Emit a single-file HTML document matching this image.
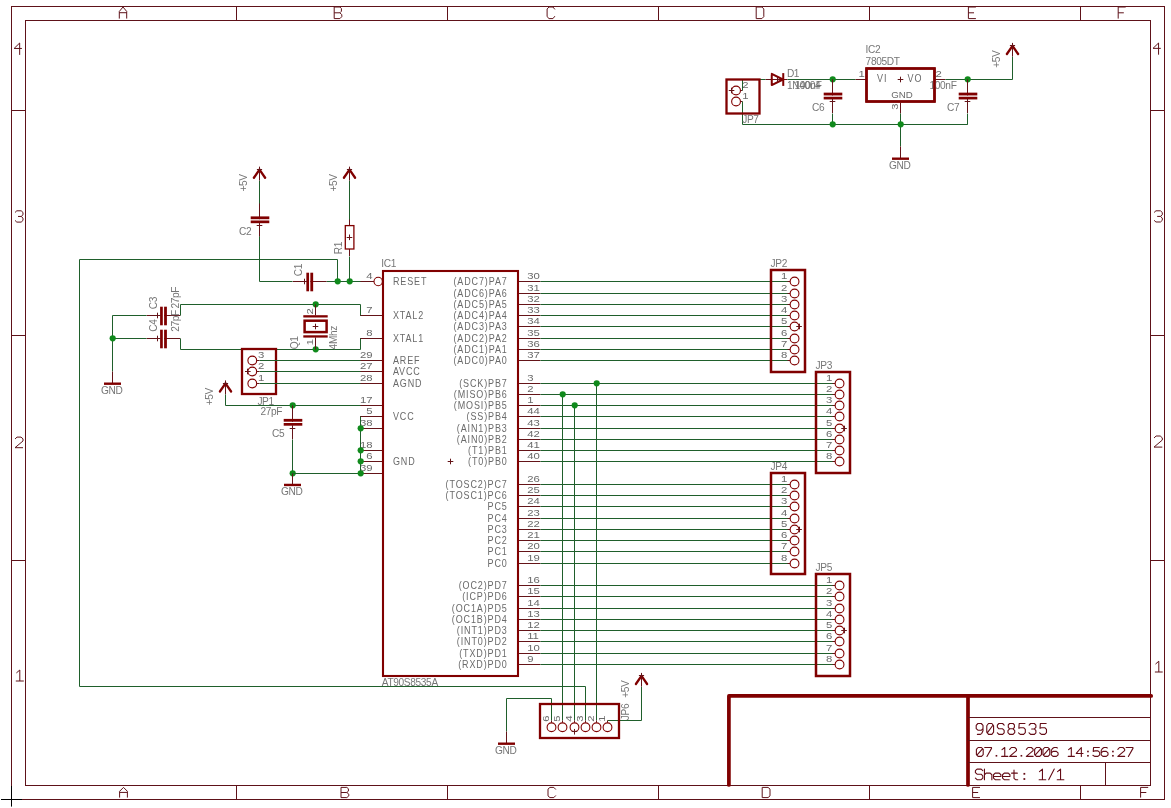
<!DOCTYPE html>
<html><head><meta charset="utf-8"><title>90S8535</title>
<style>html,body{margin:0;padding:0;background:#fff;overflow:hidden}svg{display:block;will-change:transform}</style>
</head><body>
<svg width="1171" height="808" viewBox="0 0 1171 808" shape-rendering="auto">
<rect x="0" y="0" width="1171" height="808" fill="#ffffff"/>
<rect x="11.50" y="6.50" width="1153.00" height="793.00" fill="none" stroke="#5e1219" stroke-width="1"/>
<rect x="25.50" y="20.50" width="1125.00" height="765.00" fill="none" stroke="#5e1219" stroke-width="1"/>
<line x1="236.50" y1="6.50" x2="236.50" y2="20.50" stroke="#5e1219" stroke-width="1" stroke-linecap="butt"/>
<line x1="236.50" y1="785.50" x2="236.50" y2="799.50" stroke="#5e1219" stroke-width="1" stroke-linecap="butt"/>
<line x1="447.50" y1="6.50" x2="447.50" y2="20.50" stroke="#5e1219" stroke-width="1" stroke-linecap="butt"/>
<line x1="447.50" y1="785.50" x2="447.50" y2="799.50" stroke="#5e1219" stroke-width="1" stroke-linecap="butt"/>
<line x1="658.50" y1="6.50" x2="658.50" y2="20.50" stroke="#5e1219" stroke-width="1" stroke-linecap="butt"/>
<line x1="658.50" y1="785.50" x2="658.50" y2="799.50" stroke="#5e1219" stroke-width="1" stroke-linecap="butt"/>
<line x1="869.50" y1="6.50" x2="869.50" y2="20.50" stroke="#5e1219" stroke-width="1" stroke-linecap="butt"/>
<line x1="869.50" y1="785.50" x2="869.50" y2="799.50" stroke="#5e1219" stroke-width="1" stroke-linecap="butt"/>
<line x1="1080.50" y1="6.50" x2="1080.50" y2="20.50" stroke="#5e1219" stroke-width="1" stroke-linecap="butt"/>
<line x1="1080.50" y1="785.50" x2="1080.50" y2="799.50" stroke="#5e1219" stroke-width="1" stroke-linecap="butt"/>
<line x1="11.50" y1="110.50" x2="25.50" y2="110.50" stroke="#5e1219" stroke-width="1" stroke-linecap="butt"/>
<line x1="1150.50" y1="110.50" x2="1164.50" y2="110.50" stroke="#5e1219" stroke-width="1" stroke-linecap="butt"/>
<line x1="11.50" y1="335.50" x2="25.50" y2="335.50" stroke="#5e1219" stroke-width="1" stroke-linecap="butt"/>
<line x1="1150.50" y1="335.50" x2="1164.50" y2="335.50" stroke="#5e1219" stroke-width="1" stroke-linecap="butt"/>
<line x1="11.50" y1="560.50" x2="25.50" y2="560.50" stroke="#5e1219" stroke-width="1" stroke-linecap="butt"/>
<line x1="1150.50" y1="560.50" x2="1164.50" y2="560.50" stroke="#5e1219" stroke-width="1" stroke-linecap="butt"/>
<path transform="translate(119.30,7.00) scale(0.9250,0.9667)" d="M0,12 V4.6 L4,0 L8,4.6 V12 M0,5.9 H8" fill="none" stroke="#5e1219" stroke-width="1" vector-effect="non-scaling-stroke" stroke-linejoin="round"/>
<path transform="translate(334.20,7.00) scale(0.9500,0.9667)" d="M0,0 V12 H6 L8,10 V8 L6,6 H0 M6,6 L7.6,4.4 V1.6 L6,0 H0" fill="none" stroke="#5e1219" stroke-width="1" vector-effect="non-scaling-stroke" stroke-linejoin="round"/>
<path transform="translate(547.10,7.00) scale(0.9750,0.9667)" d="M8,2.5 L6,0 H2 L0,2 V10 L2,12 H6 L8,9.5" fill="none" stroke="#5e1219" stroke-width="1" vector-effect="non-scaling-stroke" stroke-linejoin="round"/>
<path transform="translate(756.20,7.00) scale(0.9500,0.9667)" d="M0,0 V12 H6 L8,10 V2 L6,0 Z" fill="none" stroke="#5e1219" stroke-width="1" vector-effect="non-scaling-stroke" stroke-linejoin="round"/>
<path transform="translate(968.40,7.00) scale(0.9375,0.9667)" d="M8,0 H0 V12 H8 M0,6 H6" fill="none" stroke="#5e1219" stroke-width="1" vector-effect="non-scaling-stroke" stroke-linejoin="round"/>
<path transform="translate(1118.20,7.00) scale(0.9375,0.9667)" d="M8,0 H0 V12 M0,6 H6" fill="none" stroke="#5e1219" stroke-width="1" vector-effect="non-scaling-stroke" stroke-linejoin="round"/>
<path transform="translate(119.60,787.40) scale(0.9750,0.8500)" d="M0,12 V4.6 L4,0 L8,4.6 V12 M0,5.9 H8" fill="none" stroke="#5e1219" stroke-width="1" vector-effect="non-scaling-stroke" stroke-linejoin="round"/>
<path transform="translate(341.00,787.40) scale(0.9750,0.8500)" d="M0,0 V12 H6 L8,10 V8 L6,6 H0 M6,6 L7.6,4.4 V1.6 L6,0 H0" fill="none" stroke="#5e1219" stroke-width="1" vector-effect="non-scaling-stroke" stroke-linejoin="round"/>
<path transform="translate(548.00,787.40) scale(0.9750,0.8500)" d="M8,2.5 L6,0 H2 L0,2 V10 L2,12 H6 L8,9.5" fill="none" stroke="#5e1219" stroke-width="1" vector-effect="non-scaling-stroke" stroke-linejoin="round"/>
<path transform="translate(762.20,787.40) scale(0.9750,0.8500)" d="M0,0 V12 H6 L8,10 V2 L6,0 Z" fill="none" stroke="#5e1219" stroke-width="1" vector-effect="non-scaling-stroke" stroke-linejoin="round"/>
<path transform="translate(972.60,787.40) scale(0.9250,0.8500)" d="M8,0 H0 V12 H8 M0,6 H6" fill="none" stroke="#5e1219" stroke-width="1" vector-effect="non-scaling-stroke" stroke-linejoin="round"/>
<path transform="translate(1140.60,787.40) scale(0.9500,0.8500)" d="M8,0 H0 V12 M0,6 H6" fill="none" stroke="#5e1219" stroke-width="1" vector-effect="non-scaling-stroke" stroke-linejoin="round"/>
<path transform="translate(14.10,43.00) scale(0.9750,0.9917)" d="M5.7,12 V0 L0,5.5 H8" fill="none" stroke="#5e1219" stroke-width="1" vector-effect="non-scaling-stroke" stroke-linejoin="round"/>
<path transform="translate(15.00,210.80) scale(1.0000,0.9417)" d="M0,1.8 L1.8,0 H6.2 L8,1.8 V4.2 L6.2,6 H3 M6.2,6 L8,7.8 V10.2 L6.2,12 H1.8 L0,10.2" fill="none" stroke="#5e1219" stroke-width="1" vector-effect="non-scaling-stroke" stroke-linejoin="round"/>
<path transform="translate(15.00,437.10) scale(1.0000,0.8833)" d="M0,2.2 L2,0 H6 L8,2 V4.4 L0,12 H8" fill="none" stroke="#5e1219" stroke-width="1" vector-effect="non-scaling-stroke" stroke-linejoin="round"/>
<path transform="translate(15.80,670.00) scale(1.0000,0.9167)" d="M0.6,3.2 L4,0 V12 M0,12 H8" fill="none" stroke="#5e1219" stroke-width="1" vector-effect="non-scaling-stroke" stroke-linejoin="round"/>
<path transform="translate(1153.00,43.00) scale(0.9750,0.9750)" d="M5.7,12 V0 L0,5.5 H8" fill="none" stroke="#5e1219" stroke-width="1" vector-effect="non-scaling-stroke" stroke-linejoin="round"/>
<path transform="translate(1154.10,210.80) scale(1.0250,0.9333)" d="M0,1.8 L1.8,0 H6.2 L8,1.8 V4.2 L6.2,6 H3 M6.2,6 L8,7.8 V10.2 L6.2,12 H1.8 L0,10.2" fill="none" stroke="#5e1219" stroke-width="1" vector-effect="non-scaling-stroke" stroke-linejoin="round"/>
<path transform="translate(1154.00,436.00) scale(1.0375,0.9250)" d="M0,2.2 L2,0 H6 L8,2 V4.4 L0,12 H8" fill="none" stroke="#5e1219" stroke-width="1" vector-effect="non-scaling-stroke" stroke-linejoin="round"/>
<path transform="translate(1154.90,661.20) scale(0.9750,0.9000)" d="M0.6,3.2 L4,0 V12 M0,12 H8" fill="none" stroke="#5e1219" stroke-width="1" vector-effect="non-scaling-stroke" stroke-linejoin="round"/>
<line x1="1.00" y1="799.50" x2="22.00" y2="799.50" stroke="#000000" stroke-width="1" stroke-linecap="butt"/>
<line x1="11.50" y1="786.00" x2="11.50" y2="806.60" stroke="#000000" stroke-width="1" stroke-linecap="butt"/>
<path d="M728.9,785 V695.9 H1151.2" fill="none" stroke="#800000" stroke-width="3.7" stroke-linecap="round" stroke-linejoin="round"/>
<line x1="968.00" y1="695.90" x2="968.00" y2="785.00" stroke="#800000" stroke-width="3.7" stroke-linecap="round"/>
<line x1="968.00" y1="717.50" x2="1150.50" y2="717.50" stroke="#5e1219" stroke-width="1" stroke-linecap="butt"/>
<line x1="968.00" y1="740.50" x2="1150.50" y2="740.50" stroke="#5e1219" stroke-width="1" stroke-linecap="butt"/>
<line x1="968.00" y1="762.50" x2="1150.50" y2="762.50" stroke="#5e1219" stroke-width="1" stroke-linecap="butt"/>
<line x1="1105.50" y1="762.50" x2="1105.50" y2="785.50" stroke="#5e1219" stroke-width="1" stroke-linecap="butt"/>
<path transform="translate(976.20,723.50) scale(0.8500,0.9083)" d="M8,5.6 L6.2,7.4 H2 L0,5.6 V2 L2,0 H6 L8,2 V8 L6.6,10.8 L5,12 H1.4" fill="none" stroke="#640c16" stroke-width="1.1" vector-effect="non-scaling-stroke" stroke-linejoin="round" stroke-linecap="round"/>
<path transform="translate(986.78,723.50) scale(0.8500,0.9083)" d="M2,0 H6 L8,2.5 V9.5 L6,12 H2 L0,9.5 V2.5 Z M0.6,10.4 L7.4,1.6" fill="none" stroke="#640c16" stroke-width="1.1" vector-effect="non-scaling-stroke" stroke-linejoin="round" stroke-linecap="round"/>
<path transform="translate(997.36,723.50) scale(0.8500,0.9083)" d="M8,1.8 L6.2,0 H1.8 L0,1.8 V4 L1.8,5.8 H6.2 L8,7.6 V10.2 L6.2,12 H1.8 L0,10.2" fill="none" stroke="#640c16" stroke-width="1.1" vector-effect="non-scaling-stroke" stroke-linejoin="round" stroke-linecap="round"/>
<path transform="translate(1007.94,723.50) scale(0.8500,0.9083)" d="M2,0 H6 L7.6,1.6 V4.2 L6,5.8 H2 L0.4,4.2 V1.6 Z M2,5.8 L0,7.8 V10 L2,12 H6 L8,10 V7.8 L6,5.8" fill="none" stroke="#640c16" stroke-width="1.1" vector-effect="non-scaling-stroke" stroke-linejoin="round" stroke-linecap="round"/>
<path transform="translate(1018.52,723.50) scale(0.8500,0.9083)" d="M7.6,0 H0.8 L0.4,5.2 L2,4.6 H6 L8,6.6 V10 L6,12 H2 L0,10.4" fill="none" stroke="#640c16" stroke-width="1.1" vector-effect="non-scaling-stroke" stroke-linejoin="round" stroke-linecap="round"/>
<path transform="translate(1029.10,723.50) scale(0.8500,0.9083)" d="M0,1.8 L1.8,0 H6.2 L8,1.8 V4.2 L6.2,6 H3 M6.2,6 L8,7.8 V10.2 L6.2,12 H1.8 L0,10.2" fill="none" stroke="#640c16" stroke-width="1.1" vector-effect="non-scaling-stroke" stroke-linejoin="round" stroke-linecap="round"/>
<path transform="translate(1039.68,723.50) scale(0.8500,0.9083)" d="M7.6,0 H0.8 L0.4,5.2 L2,4.6 H6 L8,6.6 V10 L6,12 H2 L0,10.4" fill="none" stroke="#640c16" stroke-width="1.1" vector-effect="non-scaling-stroke" stroke-linejoin="round" stroke-linecap="round"/>
<path transform="translate(976.40,747.50) scale(0.8500,0.7417)" d="M2,0 H6 L8,2.5 V9.5 L6,12 H2 L0,9.5 V2.5 Z M0.6,10.4 L7.4,1.6" fill="none" stroke="#640c16" stroke-width="1.1" vector-effect="non-scaling-stroke" stroke-linejoin="round" stroke-linecap="round"/>
<path transform="translate(984.72,747.50) scale(0.8500,0.7417)" d="M0,0 H8 V1.2 L2.6,12" fill="none" stroke="#640c16" stroke-width="1.1" vector-effect="non-scaling-stroke" stroke-linejoin="round" stroke-linecap="round"/>
<rect x="995.62" y="754.97" width="1.63" height="1.63" fill="#640c16"/>
<path transform="translate(1001.36,747.50) scale(0.8500,0.7417)" d="M0.8,2.8 L4,0 V12 M0.4,12 H7.6" fill="none" stroke="#640c16" stroke-width="1.1" vector-effect="non-scaling-stroke" stroke-linejoin="round" stroke-linecap="round"/>
<path transform="translate(1009.68,747.50) scale(0.8500,0.7417)" d="M0,2.5 L2,0 H6 L8,2.2 V4.2 L0,12 H8" fill="none" stroke="#640c16" stroke-width="1.1" vector-effect="non-scaling-stroke" stroke-linejoin="round" stroke-linecap="round"/>
<rect x="1020.58" y="754.97" width="1.63" height="1.63" fill="#640c16"/>
<path transform="translate(1026.32,747.50) scale(0.8500,0.7417)" d="M0,2.5 L2,0 H6 L8,2.2 V4.2 L0,12 H8" fill="none" stroke="#640c16" stroke-width="1.1" vector-effect="non-scaling-stroke" stroke-linejoin="round" stroke-linecap="round"/>
<path transform="translate(1034.64,747.50) scale(0.8500,0.7417)" d="M2,0 H6 L8,2.5 V9.5 L6,12 H2 L0,9.5 V2.5 Z M0.6,10.4 L7.4,1.6" fill="none" stroke="#640c16" stroke-width="1.1" vector-effect="non-scaling-stroke" stroke-linejoin="round" stroke-linecap="round"/>
<path transform="translate(1042.96,747.50) scale(0.8500,0.7417)" d="M2,0 H6 L8,2.5 V9.5 L6,12 H2 L0,9.5 V2.5 Z M0.6,10.4 L7.4,1.6" fill="none" stroke="#640c16" stroke-width="1.1" vector-effect="non-scaling-stroke" stroke-linejoin="round" stroke-linecap="round"/>
<path transform="translate(1051.28,747.50) scale(0.8500,0.7417)" d="M7.2,0.6 L6.2,0 H3.4 L1.4,1.4 L0,4 V10 L2,12 H6 L8,10 V7.2 L6,5.2 H2 L0,7.2" fill="none" stroke="#640c16" stroke-width="1.1" vector-effect="non-scaling-stroke" stroke-linejoin="round" stroke-linecap="round"/>
<path transform="translate(1067.92,747.50) scale(0.8500,0.7417)" d="M0.8,2.8 L4,0 V12 M0.4,12 H7.6" fill="none" stroke="#640c16" stroke-width="1.1" vector-effect="non-scaling-stroke" stroke-linejoin="round" stroke-linecap="round"/>
<path transform="translate(1076.24,747.50) scale(0.8500,0.7417)" d="M6,12 V0 L0,8 H8" fill="none" stroke="#640c16" stroke-width="1.1" vector-effect="non-scaling-stroke" stroke-linejoin="round" stroke-linecap="round"/>
<rect x="1087.14" y="754.97" width="1.63" height="1.63" fill="#640c16"/>
<rect x="1087.14" y="750.70" width="1.63" height="1.63" fill="#640c16"/>
<path transform="translate(1092.88,747.50) scale(0.8500,0.7417)" d="M7.6,0 H0.8 L0.4,5.2 L2,4.6 H6 L8,6.6 V10 L6,12 H2 L0,10.4" fill="none" stroke="#640c16" stroke-width="1.1" vector-effect="non-scaling-stroke" stroke-linejoin="round" stroke-linecap="round"/>
<path transform="translate(1101.20,747.50) scale(0.8500,0.7417)" d="M7.2,0.6 L6.2,0 H3.4 L1.4,1.4 L0,4 V10 L2,12 H6 L8,10 V7.2 L6,5.2 H2 L0,7.2" fill="none" stroke="#640c16" stroke-width="1.1" vector-effect="non-scaling-stroke" stroke-linejoin="round" stroke-linecap="round"/>
<rect x="1112.10" y="754.97" width="1.63" height="1.63" fill="#640c16"/>
<rect x="1112.10" y="750.70" width="1.63" height="1.63" fill="#640c16"/>
<path transform="translate(1117.84,747.50) scale(0.8500,0.7417)" d="M0,2.5 L2,0 H6 L8,2.2 V4.2 L0,12 H8" fill="none" stroke="#640c16" stroke-width="1.1" vector-effect="non-scaling-stroke" stroke-linejoin="round" stroke-linecap="round"/>
<path transform="translate(1126.16,747.50) scale(0.8500,0.7417)" d="M0,0 H8 V1.2 L2.6,12" fill="none" stroke="#640c16" stroke-width="1.1" vector-effect="non-scaling-stroke" stroke-linejoin="round" stroke-linecap="round"/>
<path transform="translate(975.40,769.10) scale(0.9250,0.8833)" d="M8,1.8 L6.2,0 H1.8 L0,1.8 V4 L1.8,5.8 H6.2 L8,7.6 V10.2 L6.2,12 H1.8 L0,10.2" fill="none" stroke="#640c16" stroke-width="1.1" vector-effect="non-scaling-stroke" stroke-linejoin="round" stroke-linecap="round"/>
<path transform="translate(984.45,769.10) scale(0.9250,0.8833)" d="M0,0 V12 M0,6.4 L1.8,4.6 H6.2 L8,6.4 V12" fill="none" stroke="#640c16" stroke-width="1.1" vector-effect="non-scaling-stroke" stroke-linejoin="round" stroke-linecap="round"/>
<path transform="translate(993.50,769.10) scale(0.9250,0.8833)" d="M0,8.4 H8 V6.4 L6.2,4.6 H1.8 L0,6.4 V10.2 L1.8,12 H7.2" fill="none" stroke="#640c16" stroke-width="1.1" vector-effect="non-scaling-stroke" stroke-linejoin="round" stroke-linecap="round"/>
<path transform="translate(1002.55,769.10) scale(0.9250,0.8833)" d="M0,8.4 H8 V6.4 L6.2,4.6 H1.8 L0,6.4 V10.2 L1.8,12 H7.2" fill="none" stroke="#640c16" stroke-width="1.1" vector-effect="non-scaling-stroke" stroke-linejoin="round" stroke-linecap="round"/>
<path transform="translate(1011.60,769.10) scale(0.9250,0.8833)" d="M2.6,1 V10.4 L4.2,12 H6.6 M0,4.6 H6.2" fill="none" stroke="#640c16" stroke-width="1.1" vector-effect="non-scaling-stroke" stroke-linejoin="round" stroke-linecap="round"/>
<rect x="1023.46" y="778.12" width="1.78" height="1.78" fill="#640c16"/>
<rect x="1023.46" y="772.92" width="1.78" height="1.78" fill="#640c16"/>
<path transform="translate(1038.75,769.10) scale(0.9250,0.8833)" d="M0.8,2.8 L4,0 V12 M0.4,12 H7.6" fill="none" stroke="#640c16" stroke-width="1.1" vector-effect="non-scaling-stroke" stroke-linejoin="round" stroke-linecap="round"/>
<path transform="translate(1047.80,769.10) scale(0.9250,0.8833)" d="M1,12 L7,0" fill="none" stroke="#640c16" stroke-width="1.1" vector-effect="non-scaling-stroke" stroke-linejoin="round" stroke-linecap="round"/>
<path transform="translate(1056.85,769.10) scale(0.9250,0.8833)" d="M0.8,2.8 L4,0 V12 M0.4,12 H7.6" fill="none" stroke="#640c16" stroke-width="1.1" vector-effect="non-scaling-stroke" stroke-linejoin="round" stroke-linecap="round"/>
<rect x="383.00" y="271.00" width="135.00" height="405.00" fill="none" stroke="#800000" stroke-width="2.1"/>
<line x1="360.00" y1="281.50" x2="374.00" y2="281.50" stroke="#641418" stroke-width="1" stroke-linecap="butt"/>
<circle cx="378.20" cy="281.50" r="4.20" fill="none" stroke="#800000" stroke-width="1.1"/>
<text transform="translate(372.30,279.20) scale(1.17,1)" font-family="Liberation Sans" font-size="9.7" fill="#6a6a6a" text-anchor="end" letter-spacing="-0.15">4</text>
<text transform="translate(392.90,284.90) scale(0.9,1)" font-family="Liberation Sans" font-size="10.0" fill="#6a6a6a" text-anchor="start" letter-spacing="0.98">RESET</text>
<line x1="360.00" y1="315.50" x2="382.00" y2="315.50" stroke="#641418" stroke-width="1" stroke-linecap="butt"/>
<text transform="translate(372.30,313.20) scale(1.17,1)" font-family="Liberation Sans" font-size="9.7" fill="#6a6a6a" text-anchor="end" letter-spacing="-0.15">7</text>
<text transform="translate(392.90,318.90) scale(0.9,1)" font-family="Liberation Sans" font-size="10.0" fill="#6a6a6a" text-anchor="start" letter-spacing="0.98">XTAL2</text>
<line x1="360.00" y1="338.50" x2="382.00" y2="338.50" stroke="#641418" stroke-width="1" stroke-linecap="butt"/>
<text transform="translate(372.30,336.20) scale(1.17,1)" font-family="Liberation Sans" font-size="9.7" fill="#6a6a6a" text-anchor="end" letter-spacing="-0.15">8</text>
<text transform="translate(392.90,341.90) scale(0.9,1)" font-family="Liberation Sans" font-size="10.0" fill="#6a6a6a" text-anchor="start" letter-spacing="0.98">XTAL1</text>
<line x1="360.00" y1="360.50" x2="382.00" y2="360.50" stroke="#641418" stroke-width="1" stroke-linecap="butt"/>
<text transform="translate(372.30,358.20) scale(1.17,1)" font-family="Liberation Sans" font-size="9.7" fill="#6a6a6a" text-anchor="end" letter-spacing="-0.15">29</text>
<text transform="translate(392.90,363.90) scale(0.9,1)" font-family="Liberation Sans" font-size="10.0" fill="#6a6a6a" text-anchor="start" letter-spacing="0.98">AREF</text>
<line x1="360.00" y1="371.50" x2="382.00" y2="371.50" stroke="#641418" stroke-width="1" stroke-linecap="butt"/>
<text transform="translate(372.30,369.20) scale(1.17,1)" font-family="Liberation Sans" font-size="9.7" fill="#6a6a6a" text-anchor="end" letter-spacing="-0.15">27</text>
<text transform="translate(392.90,374.90) scale(0.9,1)" font-family="Liberation Sans" font-size="10.0" fill="#6a6a6a" text-anchor="start" letter-spacing="0.98">AVCC</text>
<line x1="360.00" y1="383.50" x2="382.00" y2="383.50" stroke="#641418" stroke-width="1" stroke-linecap="butt"/>
<text transform="translate(372.30,381.20) scale(1.17,1)" font-family="Liberation Sans" font-size="9.7" fill="#6a6a6a" text-anchor="end" letter-spacing="-0.15">28</text>
<text transform="translate(392.90,386.90) scale(0.9,1)" font-family="Liberation Sans" font-size="10.0" fill="#6a6a6a" text-anchor="start" letter-spacing="0.98">AGND</text>
<line x1="360.00" y1="405.50" x2="382.00" y2="405.50" stroke="#641418" stroke-width="1" stroke-linecap="butt"/>
<text transform="translate(372.30,403.20) scale(1.17,1)" font-family="Liberation Sans" font-size="9.7" fill="#6a6a6a" text-anchor="end" letter-spacing="-0.15">17</text>
<line x1="360.00" y1="416.50" x2="382.00" y2="416.50" stroke="#641418" stroke-width="1" stroke-linecap="butt"/>
<text transform="translate(372.30,414.20) scale(1.17,1)" font-family="Liberation Sans" font-size="9.7" fill="#6a6a6a" text-anchor="end" letter-spacing="-0.15">5</text>
<text transform="translate(392.90,419.90) scale(0.9,1)" font-family="Liberation Sans" font-size="10.0" fill="#6a6a6a" text-anchor="start" letter-spacing="0.98">VCC</text>
<line x1="360.00" y1="428.50" x2="382.00" y2="428.50" stroke="#641418" stroke-width="1" stroke-linecap="butt"/>
<text transform="translate(372.30,426.20) scale(1.17,1)" font-family="Liberation Sans" font-size="9.7" fill="#6a6a6a" text-anchor="end" letter-spacing="-0.15">38</text>
<line x1="360.00" y1="450.50" x2="382.00" y2="450.50" stroke="#641418" stroke-width="1" stroke-linecap="butt"/>
<text transform="translate(372.30,448.20) scale(1.17,1)" font-family="Liberation Sans" font-size="9.7" fill="#6a6a6a" text-anchor="end" letter-spacing="-0.15">18</text>
<line x1="360.00" y1="461.50" x2="382.00" y2="461.50" stroke="#641418" stroke-width="1" stroke-linecap="butt"/>
<text transform="translate(372.30,459.20) scale(1.17,1)" font-family="Liberation Sans" font-size="9.7" fill="#6a6a6a" text-anchor="end" letter-spacing="-0.15">6</text>
<text transform="translate(392.90,464.90) scale(0.9,1)" font-family="Liberation Sans" font-size="10.0" fill="#6a6a6a" text-anchor="start" letter-spacing="0.98">GND</text>
<line x1="360.00" y1="473.50" x2="382.00" y2="473.50" stroke="#641418" stroke-width="1" stroke-linecap="butt"/>
<text transform="translate(372.30,471.20) scale(1.17,1)" font-family="Liberation Sans" font-size="9.7" fill="#6a6a6a" text-anchor="end" letter-spacing="-0.15">39</text>
<line x1="519.00" y1="281.50" x2="540.50" y2="281.50" stroke="#641418" stroke-width="1" stroke-linecap="butt"/>
<text transform="translate(527.30,279.20) scale(1.17,1)" font-family="Liberation Sans" font-size="9.7" fill="#6a6a6a" text-anchor="start" letter-spacing="-0.15">30</text>
<text transform="translate(507.70,284.90) scale(0.9,1)" font-family="Liberation Sans" font-size="10.0" fill="#6a6a6a" text-anchor="end" letter-spacing="0.98">(ADC7)PA7</text>
<line x1="540.50" y1="281.50" x2="788.00" y2="281.50" stroke="#1f5f2b" stroke-width="1" stroke-linecap="butt"/>
<line x1="519.00" y1="293.50" x2="540.50" y2="293.50" stroke="#641418" stroke-width="1" stroke-linecap="butt"/>
<text transform="translate(527.30,291.20) scale(1.17,1)" font-family="Liberation Sans" font-size="9.7" fill="#6a6a6a" text-anchor="start" letter-spacing="-0.15">31</text>
<text transform="translate(507.70,296.90) scale(0.9,1)" font-family="Liberation Sans" font-size="10.0" fill="#6a6a6a" text-anchor="end" letter-spacing="0.98">(ADC6)PA6</text>
<line x1="540.50" y1="293.50" x2="788.00" y2="293.50" stroke="#1f5f2b" stroke-width="1" stroke-linecap="butt"/>
<line x1="519.00" y1="304.50" x2="540.50" y2="304.50" stroke="#641418" stroke-width="1" stroke-linecap="butt"/>
<text transform="translate(527.30,302.20) scale(1.17,1)" font-family="Liberation Sans" font-size="9.7" fill="#6a6a6a" text-anchor="start" letter-spacing="-0.15">32</text>
<text transform="translate(507.70,307.90) scale(0.9,1)" font-family="Liberation Sans" font-size="10.0" fill="#6a6a6a" text-anchor="end" letter-spacing="0.98">(ADC5)PA5</text>
<line x1="540.50" y1="304.50" x2="788.00" y2="304.50" stroke="#1f5f2b" stroke-width="1" stroke-linecap="butt"/>
<line x1="519.00" y1="315.50" x2="540.50" y2="315.50" stroke="#641418" stroke-width="1" stroke-linecap="butt"/>
<text transform="translate(527.30,313.20) scale(1.17,1)" font-family="Liberation Sans" font-size="9.7" fill="#6a6a6a" text-anchor="start" letter-spacing="-0.15">33</text>
<text transform="translate(507.70,318.90) scale(0.9,1)" font-family="Liberation Sans" font-size="10.0" fill="#6a6a6a" text-anchor="end" letter-spacing="0.98">(ADC4)PA4</text>
<line x1="540.50" y1="315.50" x2="788.00" y2="315.50" stroke="#1f5f2b" stroke-width="1" stroke-linecap="butt"/>
<line x1="519.00" y1="326.50" x2="540.50" y2="326.50" stroke="#641418" stroke-width="1" stroke-linecap="butt"/>
<text transform="translate(527.30,324.20) scale(1.17,1)" font-family="Liberation Sans" font-size="9.7" fill="#6a6a6a" text-anchor="start" letter-spacing="-0.15">34</text>
<text transform="translate(507.70,329.90) scale(0.9,1)" font-family="Liberation Sans" font-size="10.0" fill="#6a6a6a" text-anchor="end" letter-spacing="0.98">(ADC3)PA3</text>
<line x1="540.50" y1="326.50" x2="788.00" y2="326.50" stroke="#1f5f2b" stroke-width="1" stroke-linecap="butt"/>
<line x1="519.00" y1="338.50" x2="540.50" y2="338.50" stroke="#641418" stroke-width="1" stroke-linecap="butt"/>
<text transform="translate(527.30,336.20) scale(1.17,1)" font-family="Liberation Sans" font-size="9.7" fill="#6a6a6a" text-anchor="start" letter-spacing="-0.15">35</text>
<text transform="translate(507.70,341.90) scale(0.9,1)" font-family="Liberation Sans" font-size="10.0" fill="#6a6a6a" text-anchor="end" letter-spacing="0.98">(ADC2)PA2</text>
<line x1="540.50" y1="338.50" x2="788.00" y2="338.50" stroke="#1f5f2b" stroke-width="1" stroke-linecap="butt"/>
<line x1="519.00" y1="349.50" x2="540.50" y2="349.50" stroke="#641418" stroke-width="1" stroke-linecap="butt"/>
<text transform="translate(527.30,347.20) scale(1.17,1)" font-family="Liberation Sans" font-size="9.7" fill="#6a6a6a" text-anchor="start" letter-spacing="-0.15">36</text>
<text transform="translate(507.70,352.90) scale(0.9,1)" font-family="Liberation Sans" font-size="10.0" fill="#6a6a6a" text-anchor="end" letter-spacing="0.98">(ADC1)PA1</text>
<line x1="540.50" y1="349.50" x2="788.00" y2="349.50" stroke="#1f5f2b" stroke-width="1" stroke-linecap="butt"/>
<line x1="519.00" y1="360.50" x2="540.50" y2="360.50" stroke="#641418" stroke-width="1" stroke-linecap="butt"/>
<text transform="translate(527.30,358.20) scale(1.17,1)" font-family="Liberation Sans" font-size="9.7" fill="#6a6a6a" text-anchor="start" letter-spacing="-0.15">37</text>
<text transform="translate(507.70,363.90) scale(0.9,1)" font-family="Liberation Sans" font-size="10.0" fill="#6a6a6a" text-anchor="end" letter-spacing="0.98">(ADC0)PA0</text>
<line x1="540.50" y1="360.50" x2="788.00" y2="360.50" stroke="#1f5f2b" stroke-width="1" stroke-linecap="butt"/>
<line x1="519.00" y1="383.50" x2="540.50" y2="383.50" stroke="#641418" stroke-width="1" stroke-linecap="butt"/>
<text transform="translate(527.30,381.20) scale(1.17,1)" font-family="Liberation Sans" font-size="9.7" fill="#6a6a6a" text-anchor="start" letter-spacing="-0.15">3</text>
<text transform="translate(507.70,386.90) scale(0.9,1)" font-family="Liberation Sans" font-size="10.0" fill="#6a6a6a" text-anchor="end" letter-spacing="0.98">(SCK)PB7</text>
<line x1="540.50" y1="383.50" x2="833.00" y2="383.50" stroke="#1f5f2b" stroke-width="1" stroke-linecap="butt"/>
<line x1="519.00" y1="394.50" x2="540.50" y2="394.50" stroke="#641418" stroke-width="1" stroke-linecap="butt"/>
<text transform="translate(527.30,392.20) scale(1.17,1)" font-family="Liberation Sans" font-size="9.7" fill="#6a6a6a" text-anchor="start" letter-spacing="-0.15">2</text>
<text transform="translate(507.70,397.90) scale(0.9,1)" font-family="Liberation Sans" font-size="10.0" fill="#6a6a6a" text-anchor="end" letter-spacing="0.98">(MISO)PB6</text>
<line x1="540.50" y1="394.50" x2="833.00" y2="394.50" stroke="#1f5f2b" stroke-width="1" stroke-linecap="butt"/>
<line x1="519.00" y1="405.50" x2="540.50" y2="405.50" stroke="#641418" stroke-width="1" stroke-linecap="butt"/>
<text transform="translate(527.30,403.20) scale(1.17,1)" font-family="Liberation Sans" font-size="9.7" fill="#6a6a6a" text-anchor="start" letter-spacing="-0.15">1</text>
<text transform="translate(507.70,408.90) scale(0.9,1)" font-family="Liberation Sans" font-size="10.0" fill="#6a6a6a" text-anchor="end" letter-spacing="0.98">(MOSI)PB5</text>
<line x1="540.50" y1="405.50" x2="833.00" y2="405.50" stroke="#1f5f2b" stroke-width="1" stroke-linecap="butt"/>
<line x1="519.00" y1="416.50" x2="540.50" y2="416.50" stroke="#641418" stroke-width="1" stroke-linecap="butt"/>
<text transform="translate(527.30,414.20) scale(1.17,1)" font-family="Liberation Sans" font-size="9.7" fill="#6a6a6a" text-anchor="start" letter-spacing="-0.15">44</text>
<text transform="translate(507.70,419.90) scale(0.9,1)" font-family="Liberation Sans" font-size="10.0" fill="#6a6a6a" text-anchor="end" letter-spacing="0.98">(SS)PB4</text>
<line x1="540.50" y1="416.50" x2="833.00" y2="416.50" stroke="#1f5f2b" stroke-width="1" stroke-linecap="butt"/>
<line x1="519.00" y1="428.50" x2="540.50" y2="428.50" stroke="#641418" stroke-width="1" stroke-linecap="butt"/>
<text transform="translate(527.30,426.20) scale(1.17,1)" font-family="Liberation Sans" font-size="9.7" fill="#6a6a6a" text-anchor="start" letter-spacing="-0.15">43</text>
<text transform="translate(507.70,431.90) scale(0.9,1)" font-family="Liberation Sans" font-size="10.0" fill="#6a6a6a" text-anchor="end" letter-spacing="0.98">(AIN1)PB3</text>
<line x1="540.50" y1="428.50" x2="833.00" y2="428.50" stroke="#1f5f2b" stroke-width="1" stroke-linecap="butt"/>
<line x1="519.00" y1="439.50" x2="540.50" y2="439.50" stroke="#641418" stroke-width="1" stroke-linecap="butt"/>
<text transform="translate(527.30,437.20) scale(1.17,1)" font-family="Liberation Sans" font-size="9.7" fill="#6a6a6a" text-anchor="start" letter-spacing="-0.15">42</text>
<text transform="translate(507.70,442.90) scale(0.9,1)" font-family="Liberation Sans" font-size="10.0" fill="#6a6a6a" text-anchor="end" letter-spacing="0.98">(AIN0)PB2</text>
<line x1="540.50" y1="439.50" x2="833.00" y2="439.50" stroke="#1f5f2b" stroke-width="1" stroke-linecap="butt"/>
<line x1="519.00" y1="450.50" x2="540.50" y2="450.50" stroke="#641418" stroke-width="1" stroke-linecap="butt"/>
<text transform="translate(527.30,448.20) scale(1.17,1)" font-family="Liberation Sans" font-size="9.7" fill="#6a6a6a" text-anchor="start" letter-spacing="-0.15">41</text>
<text transform="translate(507.70,453.90) scale(0.9,1)" font-family="Liberation Sans" font-size="10.0" fill="#6a6a6a" text-anchor="end" letter-spacing="0.98">(T1)PB1</text>
<line x1="540.50" y1="450.50" x2="833.00" y2="450.50" stroke="#1f5f2b" stroke-width="1" stroke-linecap="butt"/>
<line x1="519.00" y1="461.50" x2="540.50" y2="461.50" stroke="#641418" stroke-width="1" stroke-linecap="butt"/>
<text transform="translate(527.30,459.20) scale(1.17,1)" font-family="Liberation Sans" font-size="9.7" fill="#6a6a6a" text-anchor="start" letter-spacing="-0.15">40</text>
<text transform="translate(507.70,464.90) scale(0.9,1)" font-family="Liberation Sans" font-size="10.0" fill="#6a6a6a" text-anchor="end" letter-spacing="0.98">(T0)PB0</text>
<line x1="540.50" y1="461.50" x2="833.00" y2="461.50" stroke="#1f5f2b" stroke-width="1" stroke-linecap="butt"/>
<line x1="519.00" y1="484.50" x2="540.50" y2="484.50" stroke="#641418" stroke-width="1" stroke-linecap="butt"/>
<text transform="translate(527.30,482.20) scale(1.17,1)" font-family="Liberation Sans" font-size="9.7" fill="#6a6a6a" text-anchor="start" letter-spacing="-0.15">26</text>
<text transform="translate(507.70,487.90) scale(0.9,1)" font-family="Liberation Sans" font-size="10.0" fill="#6a6a6a" text-anchor="end" letter-spacing="0.98">(TOSC2)PC7</text>
<line x1="540.50" y1="484.50" x2="788.00" y2="484.50" stroke="#1f5f2b" stroke-width="1" stroke-linecap="butt"/>
<line x1="519.00" y1="495.50" x2="540.50" y2="495.50" stroke="#641418" stroke-width="1" stroke-linecap="butt"/>
<text transform="translate(527.30,493.20) scale(1.17,1)" font-family="Liberation Sans" font-size="9.7" fill="#6a6a6a" text-anchor="start" letter-spacing="-0.15">25</text>
<text transform="translate(507.70,498.90) scale(0.9,1)" font-family="Liberation Sans" font-size="10.0" fill="#6a6a6a" text-anchor="end" letter-spacing="0.98">(TOSC1)PC6</text>
<line x1="540.50" y1="495.50" x2="788.00" y2="495.50" stroke="#1f5f2b" stroke-width="1" stroke-linecap="butt"/>
<line x1="519.00" y1="506.50" x2="540.50" y2="506.50" stroke="#641418" stroke-width="1" stroke-linecap="butt"/>
<text transform="translate(527.30,504.20) scale(1.17,1)" font-family="Liberation Sans" font-size="9.7" fill="#6a6a6a" text-anchor="start" letter-spacing="-0.15">24</text>
<text transform="translate(507.70,509.90) scale(0.9,1)" font-family="Liberation Sans" font-size="10.0" fill="#6a6a6a" text-anchor="end" letter-spacing="0.98">PC5</text>
<line x1="540.50" y1="506.50" x2="788.00" y2="506.50" stroke="#1f5f2b" stroke-width="1" stroke-linecap="butt"/>
<line x1="519.00" y1="518.50" x2="540.50" y2="518.50" stroke="#641418" stroke-width="1" stroke-linecap="butt"/>
<text transform="translate(527.30,516.20) scale(1.17,1)" font-family="Liberation Sans" font-size="9.7" fill="#6a6a6a" text-anchor="start" letter-spacing="-0.15">23</text>
<text transform="translate(507.70,521.90) scale(0.9,1)" font-family="Liberation Sans" font-size="10.0" fill="#6a6a6a" text-anchor="end" letter-spacing="0.98">PC4</text>
<line x1="540.50" y1="518.50" x2="788.00" y2="518.50" stroke="#1f5f2b" stroke-width="1" stroke-linecap="butt"/>
<line x1="519.00" y1="529.50" x2="540.50" y2="529.50" stroke="#641418" stroke-width="1" stroke-linecap="butt"/>
<text transform="translate(527.30,527.20) scale(1.17,1)" font-family="Liberation Sans" font-size="9.7" fill="#6a6a6a" text-anchor="start" letter-spacing="-0.15">22</text>
<text transform="translate(507.70,532.90) scale(0.9,1)" font-family="Liberation Sans" font-size="10.0" fill="#6a6a6a" text-anchor="end" letter-spacing="0.98">PC3</text>
<line x1="540.50" y1="529.50" x2="788.00" y2="529.50" stroke="#1f5f2b" stroke-width="1" stroke-linecap="butt"/>
<line x1="519.00" y1="540.50" x2="540.50" y2="540.50" stroke="#641418" stroke-width="1" stroke-linecap="butt"/>
<text transform="translate(527.30,538.20) scale(1.17,1)" font-family="Liberation Sans" font-size="9.7" fill="#6a6a6a" text-anchor="start" letter-spacing="-0.15">21</text>
<text transform="translate(507.70,543.90) scale(0.9,1)" font-family="Liberation Sans" font-size="10.0" fill="#6a6a6a" text-anchor="end" letter-spacing="0.98">PC2</text>
<line x1="540.50" y1="540.50" x2="788.00" y2="540.50" stroke="#1f5f2b" stroke-width="1" stroke-linecap="butt"/>
<line x1="519.00" y1="551.50" x2="540.50" y2="551.50" stroke="#641418" stroke-width="1" stroke-linecap="butt"/>
<text transform="translate(527.30,549.20) scale(1.17,1)" font-family="Liberation Sans" font-size="9.7" fill="#6a6a6a" text-anchor="start" letter-spacing="-0.15">20</text>
<text transform="translate(507.70,554.90) scale(0.9,1)" font-family="Liberation Sans" font-size="10.0" fill="#6a6a6a" text-anchor="end" letter-spacing="0.98">PC1</text>
<line x1="540.50" y1="551.50" x2="788.00" y2="551.50" stroke="#1f5f2b" stroke-width="1" stroke-linecap="butt"/>
<line x1="519.00" y1="563.50" x2="540.50" y2="563.50" stroke="#641418" stroke-width="1" stroke-linecap="butt"/>
<text transform="translate(527.30,561.20) scale(1.17,1)" font-family="Liberation Sans" font-size="9.7" fill="#6a6a6a" text-anchor="start" letter-spacing="-0.15">19</text>
<text transform="translate(507.70,566.90) scale(0.9,1)" font-family="Liberation Sans" font-size="10.0" fill="#6a6a6a" text-anchor="end" letter-spacing="0.98">PC0</text>
<line x1="540.50" y1="563.50" x2="788.00" y2="563.50" stroke="#1f5f2b" stroke-width="1" stroke-linecap="butt"/>
<line x1="519.00" y1="585.50" x2="540.50" y2="585.50" stroke="#641418" stroke-width="1" stroke-linecap="butt"/>
<text transform="translate(527.30,583.20) scale(1.17,1)" font-family="Liberation Sans" font-size="9.7" fill="#6a6a6a" text-anchor="start" letter-spacing="-0.15">16</text>
<text transform="translate(507.70,588.90) scale(0.9,1)" font-family="Liberation Sans" font-size="10.0" fill="#6a6a6a" text-anchor="end" letter-spacing="0.98">(OC2)PD7</text>
<line x1="540.50" y1="585.50" x2="833.00" y2="585.50" stroke="#1f5f2b" stroke-width="1" stroke-linecap="butt"/>
<line x1="519.00" y1="596.50" x2="540.50" y2="596.50" stroke="#641418" stroke-width="1" stroke-linecap="butt"/>
<text transform="translate(527.30,594.20) scale(1.17,1)" font-family="Liberation Sans" font-size="9.7" fill="#6a6a6a" text-anchor="start" letter-spacing="-0.15">15</text>
<text transform="translate(507.70,599.90) scale(0.9,1)" font-family="Liberation Sans" font-size="10.0" fill="#6a6a6a" text-anchor="end" letter-spacing="0.98">(ICP)PD6</text>
<line x1="540.50" y1="596.50" x2="833.00" y2="596.50" stroke="#1f5f2b" stroke-width="1" stroke-linecap="butt"/>
<line x1="519.00" y1="608.50" x2="540.50" y2="608.50" stroke="#641418" stroke-width="1" stroke-linecap="butt"/>
<text transform="translate(527.30,606.20) scale(1.17,1)" font-family="Liberation Sans" font-size="9.7" fill="#6a6a6a" text-anchor="start" letter-spacing="-0.15">14</text>
<text transform="translate(507.70,611.90) scale(0.9,1)" font-family="Liberation Sans" font-size="10.0" fill="#6a6a6a" text-anchor="end" letter-spacing="0.98">(OC1A)PD5</text>
<line x1="540.50" y1="608.50" x2="833.00" y2="608.50" stroke="#1f5f2b" stroke-width="1" stroke-linecap="butt"/>
<line x1="519.00" y1="619.50" x2="540.50" y2="619.50" stroke="#641418" stroke-width="1" stroke-linecap="butt"/>
<text transform="translate(527.30,617.20) scale(1.17,1)" font-family="Liberation Sans" font-size="9.7" fill="#6a6a6a" text-anchor="start" letter-spacing="-0.15">13</text>
<text transform="translate(507.70,622.90) scale(0.9,1)" font-family="Liberation Sans" font-size="10.0" fill="#6a6a6a" text-anchor="end" letter-spacing="0.98">(OC1B)PD4</text>
<line x1="540.50" y1="619.50" x2="833.00" y2="619.50" stroke="#1f5f2b" stroke-width="1" stroke-linecap="butt"/>
<line x1="519.00" y1="630.50" x2="540.50" y2="630.50" stroke="#641418" stroke-width="1" stroke-linecap="butt"/>
<text transform="translate(527.30,628.20) scale(1.17,1)" font-family="Liberation Sans" font-size="9.7" fill="#6a6a6a" text-anchor="start" letter-spacing="-0.15">12</text>
<text transform="translate(507.70,633.90) scale(0.9,1)" font-family="Liberation Sans" font-size="10.0" fill="#6a6a6a" text-anchor="end" letter-spacing="0.98">(INT1)PD3</text>
<line x1="540.50" y1="630.50" x2="833.00" y2="630.50" stroke="#1f5f2b" stroke-width="1" stroke-linecap="butt"/>
<line x1="519.00" y1="641.50" x2="540.50" y2="641.50" stroke="#641418" stroke-width="1" stroke-linecap="butt"/>
<text transform="translate(527.30,639.20) scale(1.17,1)" font-family="Liberation Sans" font-size="9.7" fill="#6a6a6a" text-anchor="start" letter-spacing="-0.15">11</text>
<text transform="translate(507.70,644.90) scale(0.9,1)" font-family="Liberation Sans" font-size="10.0" fill="#6a6a6a" text-anchor="end" letter-spacing="0.98">(INT0)PD2</text>
<line x1="540.50" y1="641.50" x2="833.00" y2="641.50" stroke="#1f5f2b" stroke-width="1" stroke-linecap="butt"/>
<line x1="519.00" y1="653.50" x2="540.50" y2="653.50" stroke="#641418" stroke-width="1" stroke-linecap="butt"/>
<text transform="translate(527.30,651.20) scale(1.17,1)" font-family="Liberation Sans" font-size="9.7" fill="#6a6a6a" text-anchor="start" letter-spacing="-0.15">10</text>
<text transform="translate(507.70,656.90) scale(0.9,1)" font-family="Liberation Sans" font-size="10.0" fill="#6a6a6a" text-anchor="end" letter-spacing="0.98">(TXD)PD1</text>
<line x1="540.50" y1="653.50" x2="833.00" y2="653.50" stroke="#1f5f2b" stroke-width="1" stroke-linecap="butt"/>
<line x1="519.00" y1="664.50" x2="540.50" y2="664.50" stroke="#641418" stroke-width="1" stroke-linecap="butt"/>
<text transform="translate(527.30,662.20) scale(1.17,1)" font-family="Liberation Sans" font-size="9.7" fill="#6a6a6a" text-anchor="start" letter-spacing="-0.15">9</text>
<text transform="translate(507.70,667.90) scale(0.9,1)" font-family="Liberation Sans" font-size="10.0" fill="#6a6a6a" text-anchor="end" letter-spacing="0.98">(RXD)PD0</text>
<line x1="540.50" y1="664.50" x2="833.00" y2="664.50" stroke="#1f5f2b" stroke-width="1" stroke-linecap="butt"/>
<text transform="translate(381.30,266.90) scale(0.89,1)" font-family="Liberation Sans" font-size="11.4" fill="#767676" text-anchor="start" letter-spacing="-0.4">IC1</text>
<text transform="translate(381.80,685.60) scale(0.89,1)" font-family="Liberation Sans" font-size="11.4" fill="#767676" text-anchor="start" letter-spacing="-0.4">AT90S8535A</text>
<line x1="447.70" y1="461.50" x2="453.30" y2="461.50" stroke="#641418" stroke-width="1" stroke-linecap="butt"/>
<line x1="450.50" y1="458.70" x2="450.50" y2="464.30" stroke="#641418" stroke-width="1" stroke-linecap="butt"/>
<polyline points="360.50,281.50 326.50,281.50" fill="none" stroke="#1f5f2b" stroke-width="1" stroke-linecap="butt" stroke-linejoin="miter"/>
<polyline points="337.50,281.50 337.50,259.50 79.50,259.50 79.50,686.50 585.50,686.50 585.50,720.50" fill="none" stroke="#1f5f2b" stroke-width="1" stroke-linecap="butt" stroke-linejoin="miter"/>
<circle cx="337.70" cy="281.30" r="3.1" fill="#108a1c"/>
<circle cx="349.70" cy="281.30" r="3.1" fill="#108a1c"/>
<line x1="349.50" y1="219.00" x2="349.50" y2="225.50" stroke="#641418" stroke-width="1" stroke-linecap="butt"/>
<line x1="349.50" y1="249.00" x2="349.50" y2="256.00" stroke="#641418" stroke-width="1" stroke-linecap="butt"/>
<rect x="345.30" y="225.60" width="8.60" height="23.40" fill="none" stroke="#800000" stroke-width="1.3"/>
<line x1="346.70" y1="237.50" x2="352.30" y2="237.50" stroke="#641418" stroke-width="1" stroke-linecap="butt"/>
<line x1="349.50" y1="234.50" x2="349.50" y2="240.10" stroke="#641418" stroke-width="1" stroke-linecap="butt"/>
<polyline points="349.50,256.50 349.50,281.50" fill="none" stroke="#1f5f2b" stroke-width="1" stroke-linecap="butt" stroke-linejoin="miter"/>
<polyline points="349.50,180.50 349.50,219.50" fill="none" stroke="#1f5f2b" stroke-width="1" stroke-linecap="butt" stroke-linejoin="miter"/>
<line x1="349.50" y1="169.25" x2="349.50" y2="180.50" stroke="#641418" stroke-width="1" stroke-linecap="butt"/>
<polyline points="343.90,177.75 349.50,169.55 355.10,177.75" fill="none" stroke="#800000" stroke-width="2.3" stroke-linecap="round" stroke-linejoin="round"/>
<line x1="346.90" y1="169.50" x2="352.10" y2="169.50" stroke="#641418" stroke-width="1" stroke-linecap="butt"/>
<line x1="349.50" y1="166.65" x2="349.50" y2="171.85" stroke="#641418" stroke-width="1" stroke-linecap="butt"/>
<text transform="translate(336.95,191.55) rotate(-90) scale(0.89,1)" font-family="Liberation Sans" font-size="11.4" fill="#767676" text-anchor="start" letter-spacing="-0.4">+5V</text>
<text transform="translate(342.00,254.20) rotate(-90) scale(0.89,1)" font-family="Liberation Sans" font-size="11.4" fill="#767676" text-anchor="start" letter-spacing="-0.4">R1</text>
<line x1="292.80" y1="281.50" x2="306.35" y2="281.50" stroke="#641418" stroke-width="1" stroke-linecap="butt"/>
<line x1="310.35" y1="281.50" x2="326.55" y2="281.50" stroke="#641418" stroke-width="1" stroke-linecap="butt"/>
<rect x="306.35" y="272.70" width="2.70" height="18.60" fill="#800000"/>
<rect x="310.35" y="272.70" width="2.80" height="18.60" fill="#800000"/>
<line x1="301.25" y1="281.50" x2="306.85" y2="281.50" stroke="#641418" stroke-width="1" stroke-linecap="butt"/>
<line x1="304.50" y1="278.70" x2="304.50" y2="284.30" stroke="#641418" stroke-width="1" stroke-linecap="butt"/>
<text transform="translate(301.60,276.20) rotate(-90) scale(0.89,1)" font-family="Liberation Sans" font-size="11.4" fill="#767676" text-anchor="start" letter-spacing="-0.4">C1</text>
<line x1="259.50" y1="236.75" x2="259.50" y2="223.20" stroke="#641418" stroke-width="1" stroke-linecap="butt"/>
<line x1="259.50" y1="219.20" x2="259.50" y2="203.00" stroke="#641418" stroke-width="1" stroke-linecap="butt"/>
<rect x="250.70" y="220.50" width="18.60" height="2.70" fill="#800000"/>
<rect x="250.70" y="216.40" width="18.60" height="2.80" fill="#800000"/>
<line x1="256.70" y1="225.50" x2="262.30" y2="225.50" stroke="#641418" stroke-width="1" stroke-linecap="butt"/>
<line x1="259.50" y1="222.70" x2="259.50" y2="228.30" stroke="#641418" stroke-width="1" stroke-linecap="butt"/>
<text transform="translate(239.10,234.90) scale(0.89,1)" font-family="Liberation Sans" font-size="11.4" fill="#767676" text-anchor="start" letter-spacing="-0.4">C2</text>
<polyline points="259.50,236.50 259.50,281.50 292.50,281.50" fill="none" stroke="#1f5f2b" stroke-width="1" stroke-linecap="butt" stroke-linejoin="miter"/>
<polyline points="259.50,180.50 259.50,203.50" fill="none" stroke="#1f5f2b" stroke-width="1" stroke-linecap="butt" stroke-linejoin="miter"/>
<line x1="259.50" y1="169.25" x2="259.50" y2="180.50" stroke="#641418" stroke-width="1" stroke-linecap="butt"/>
<polyline points="253.90,177.75 259.50,169.55 265.10,177.75" fill="none" stroke="#800000" stroke-width="2.3" stroke-linecap="round" stroke-linejoin="round"/>
<line x1="256.90" y1="169.50" x2="262.10" y2="169.50" stroke="#641418" stroke-width="1" stroke-linecap="butt"/>
<line x1="259.50" y1="166.65" x2="259.50" y2="171.85" stroke="#641418" stroke-width="1" stroke-linecap="butt"/>
<text transform="translate(246.95,191.55) rotate(-90) scale(0.89,1)" font-family="Liberation Sans" font-size="11.4" fill="#767676" text-anchor="start" letter-spacing="-0.4">+5V</text>
<line x1="146.55" y1="315.50" x2="160.10" y2="315.50" stroke="#641418" stroke-width="1" stroke-linecap="butt"/>
<line x1="164.10" y1="315.50" x2="180.30" y2="315.50" stroke="#641418" stroke-width="1" stroke-linecap="butt"/>
<rect x="160.10" y="306.70" width="2.70" height="18.60" fill="#800000"/>
<rect x="164.10" y="306.70" width="2.80" height="18.60" fill="#800000"/>
<line x1="155.00" y1="315.50" x2="160.60" y2="315.50" stroke="#641418" stroke-width="1" stroke-linecap="butt"/>
<line x1="157.50" y1="312.70" x2="157.50" y2="318.30" stroke="#641418" stroke-width="1" stroke-linecap="butt"/>
<line x1="146.55" y1="338.50" x2="160.10" y2="338.50" stroke="#641418" stroke-width="1" stroke-linecap="butt"/>
<line x1="164.10" y1="338.50" x2="180.30" y2="338.50" stroke="#641418" stroke-width="1" stroke-linecap="butt"/>
<rect x="160.10" y="329.70" width="2.70" height="18.60" fill="#800000"/>
<rect x="164.10" y="329.70" width="2.80" height="18.60" fill="#800000"/>
<line x1="155.00" y1="338.50" x2="160.60" y2="338.50" stroke="#641418" stroke-width="1" stroke-linecap="butt"/>
<line x1="157.50" y1="335.70" x2="157.50" y2="341.30" stroke="#641418" stroke-width="1" stroke-linecap="butt"/>
<text transform="translate(156.70,309.20) rotate(-90) scale(0.89,1)" font-family="Liberation Sans" font-size="11.4" fill="#767676" text-anchor="start" letter-spacing="-0.4">C3</text>
<text transform="translate(156.70,331.80) rotate(-90) scale(0.89,1)" font-family="Liberation Sans" font-size="11.4" fill="#767676" text-anchor="start" letter-spacing="-0.4">C4</text>
<text transform="translate(178.60,308.60) rotate(-90) scale(0.89,1)" font-family="Liberation Sans" font-size="11.4" fill="#767676" text-anchor="start" letter-spacing="-0.4">27pF</text>
<text transform="translate(178.60,331.80) rotate(-90) scale(0.89,1)" font-family="Liberation Sans" font-size="11.4" fill="#767676" text-anchor="start" letter-spacing="-0.4">27pF</text>
<polyline points="112.50,371.50 112.50,315.50 146.50,315.50" fill="none" stroke="#1f5f2b" stroke-width="1" stroke-linecap="butt" stroke-linejoin="miter"/>
<polyline points="112.50,338.50 146.50,338.50" fill="none" stroke="#1f5f2b" stroke-width="1" stroke-linecap="butt" stroke-linejoin="miter"/>
<circle cx="112.70" cy="338.30" r="3.1" fill="#108a1c"/>
<line x1="112.50" y1="371.50" x2="112.50" y2="383.70" stroke="#641418" stroke-width="1" stroke-linecap="butt"/>
<line x1="104.00" y1="383.70" x2="121.00" y2="383.70" stroke="#800000" stroke-width="2.4" stroke-linecap="butt"/>
<text transform="translate(101.00,394.00) scale(0.89,1)" font-family="Liberation Sans" font-size="11.4" fill="#767676" text-anchor="start" letter-spacing="-0.4">GND</text>
<polyline points="180.50,315.50 180.50,304.50 360.50,304.50 360.50,315.50" fill="none" stroke="#1f5f2b" stroke-width="1" stroke-linecap="butt" stroke-linejoin="miter"/>
<polyline points="180.50,338.50 180.50,349.50 360.50,349.50 360.50,338.50" fill="none" stroke="#1f5f2b" stroke-width="1" stroke-linecap="butt" stroke-linejoin="miter"/>
<circle cx="315.70" cy="304.30" r="3.1" fill="#108a1c"/>
<circle cx="315.70" cy="349.30" r="3.1" fill="#108a1c"/>
<line x1="315.50" y1="304.50" x2="315.50" y2="315.30" stroke="#641418" stroke-width="1" stroke-linecap="butt"/>
<line x1="315.50" y1="337.40" x2="315.50" y2="349.50" stroke="#641418" stroke-width="1" stroke-linecap="butt"/>
<rect x="303.30" y="315.20" width="24.40" height="2.30" fill="#800000"/>
<rect x="303.30" y="335.30" width="24.40" height="2.30" fill="#800000"/>
<rect x="304.60" y="320.70" width="22.00" height="11.40" fill="none" stroke="#800000" stroke-width="2.5"/>
<line x1="312.70" y1="326.50" x2="318.30" y2="326.50" stroke="#641418" stroke-width="1" stroke-linecap="butt"/>
<line x1="315.50" y1="323.70" x2="315.50" y2="329.30" stroke="#641418" stroke-width="1" stroke-linecap="butt"/>
<text transform="translate(313.30,314.60) rotate(-90) scale(1.17,1)" font-family="Liberation Sans" font-size="9.7" fill="#6a6a6a" text-anchor="start" letter-spacing="-0.15">2</text>
<text transform="translate(313.30,345.30) rotate(-90) scale(1.17,1)" font-family="Liberation Sans" font-size="9.7" fill="#6a6a6a" text-anchor="start" letter-spacing="-0.15">1</text>
<text transform="translate(298.00,349.20) rotate(-90) scale(0.89,1)" font-family="Liberation Sans" font-size="11.4" fill="#767676" text-anchor="start" letter-spacing="-0.4">Q1</text>
<text transform="translate(337.00,349.40) rotate(-90) scale(0.89,1)" font-family="Liberation Sans" font-size="11.4" fill="#767676" text-anchor="start" letter-spacing="-0.4">4Mhz</text>
<circle cx="252.30" cy="360.50" r="4.40" fill="#ffffff" stroke="#800000" stroke-width="1.1"/>
<line x1="256.70" y1="360.50" x2="259.50" y2="360.50" stroke="#641418" stroke-width="1" stroke-linecap="butt"/>
<text transform="translate(257.90,358.20) scale(1.17,1)" font-family="Liberation Sans" font-size="9.7" fill="#6a6a6a" text-anchor="start" letter-spacing="-0.15">3</text>
<circle cx="252.30" cy="371.50" r="4.40" fill="#ffffff" stroke="#800000" stroke-width="1.1"/>
<line x1="256.70" y1="371.50" x2="259.50" y2="371.50" stroke="#641418" stroke-width="1" stroke-linecap="butt"/>
<text transform="translate(257.90,369.20) scale(1.17,1)" font-family="Liberation Sans" font-size="9.7" fill="#6a6a6a" text-anchor="start" letter-spacing="-0.15">2</text>
<circle cx="252.30" cy="383.50" r="4.40" fill="#ffffff" stroke="#800000" stroke-width="1.1"/>
<line x1="256.70" y1="383.50" x2="259.50" y2="383.50" stroke="#641418" stroke-width="1" stroke-linecap="butt"/>
<text transform="translate(257.90,381.20) scale(1.17,1)" font-family="Liberation Sans" font-size="9.7" fill="#6a6a6a" text-anchor="start" letter-spacing="-0.15">1</text>
<rect x="242.00" y="349.00" width="34.00" height="45.00" fill="none" stroke="#800000" stroke-width="2.3"/>
<line x1="245.00" y1="371.50" x2="250.60" y2="371.50" stroke="#641418" stroke-width="1" stroke-linecap="butt"/>
<line x1="247.50" y1="368.70" x2="247.50" y2="374.30" stroke="#641418" stroke-width="1" stroke-linecap="butt"/>
<text transform="translate(257.40,404.80) scale(0.89,1)" font-family="Liberation Sans" font-size="11.4" fill="#767676" text-anchor="start" letter-spacing="-0.4">JP1</text>
<polyline points="259.50,360.50 360.50,360.50" fill="none" stroke="#1f5f2b" stroke-width="1" stroke-linecap="butt" stroke-linejoin="miter"/>
<polyline points="259.50,371.50 360.50,371.50" fill="none" stroke="#1f5f2b" stroke-width="1" stroke-linecap="butt" stroke-linejoin="miter"/>
<polyline points="259.50,383.50 360.50,383.50" fill="none" stroke="#1f5f2b" stroke-width="1" stroke-linecap="butt" stroke-linejoin="miter"/>
<line x1="225.50" y1="383.00" x2="225.50" y2="394.50" stroke="#641418" stroke-width="1" stroke-linecap="butt"/>
<polyline points="219.90,391.50 225.50,383.30 231.10,391.50" fill="none" stroke="#800000" stroke-width="2.3" stroke-linecap="round" stroke-linejoin="round"/>
<line x1="222.90" y1="383.50" x2="228.10" y2="383.50" stroke="#641418" stroke-width="1" stroke-linecap="butt"/>
<line x1="225.50" y1="380.40" x2="225.50" y2="385.60" stroke="#641418" stroke-width="1" stroke-linecap="butt"/>
<text transform="translate(212.95,405.30) rotate(-90) scale(0.89,1)" font-family="Liberation Sans" font-size="11.4" fill="#767676" text-anchor="start" letter-spacing="-0.4">+5V</text>
<polyline points="225.50,394.50 225.50,405.50 360.50,405.50" fill="none" stroke="#1f5f2b" stroke-width="1" stroke-linecap="butt" stroke-linejoin="miter"/>
<circle cx="292.70" cy="405.30" r="3.1" fill="#108a1c"/>
<line x1="292.50" y1="439.25" x2="292.50" y2="425.70" stroke="#641418" stroke-width="1" stroke-linecap="butt"/>
<line x1="292.50" y1="421.70" x2="292.50" y2="405.50" stroke="#641418" stroke-width="1" stroke-linecap="butt"/>
<rect x="283.70" y="423.00" width="18.60" height="2.70" fill="#800000"/>
<rect x="283.70" y="418.90" width="18.60" height="2.80" fill="#800000"/>
<line x1="289.70" y1="428.50" x2="295.30" y2="428.50" stroke="#641418" stroke-width="1" stroke-linecap="butt"/>
<line x1="292.50" y1="425.20" x2="292.50" y2="430.80" stroke="#641418" stroke-width="1" stroke-linecap="butt"/>
<text transform="translate(272.10,437.40) scale(0.89,1)" font-family="Liberation Sans" font-size="11.4" fill="#767676" text-anchor="start" letter-spacing="-0.4">C5</text>
<text transform="translate(260.40,415.40) scale(0.89,1)" font-family="Liberation Sans" font-size="11.4" fill="#767676" text-anchor="start" letter-spacing="-0.4">27pF</text>
<polyline points="292.50,439.50 292.50,473.50" fill="none" stroke="#1f5f2b" stroke-width="1" stroke-linecap="butt" stroke-linejoin="miter"/>
<circle cx="292.70" cy="473.30" r="3.1" fill="#108a1c"/>
<line x1="292.50" y1="473.50" x2="292.50" y2="484.95" stroke="#641418" stroke-width="1" stroke-linecap="butt"/>
<line x1="284.00" y1="484.95" x2="301.00" y2="484.95" stroke="#800000" stroke-width="2.4" stroke-linecap="butt"/>
<text transform="translate(281.00,495.25) scale(0.89,1)" font-family="Liberation Sans" font-size="11.4" fill="#767676" text-anchor="start" letter-spacing="-0.4">GND</text>
<polyline points="292.50,473.50 360.50,473.50" fill="none" stroke="#1f5f2b" stroke-width="1" stroke-linecap="butt" stroke-linejoin="miter"/>
<polyline points="360.50,416.50 360.50,473.50" fill="none" stroke="#1f5f2b" stroke-width="1" stroke-linecap="butt" stroke-linejoin="miter"/>
<circle cx="360.70" cy="428.30" r="3.1" fill="#108a1c"/>
<circle cx="360.70" cy="450.30" r="3.1" fill="#108a1c"/>
<circle cx="360.70" cy="461.30" r="3.1" fill="#108a1c"/>
<circle cx="360.70" cy="473.30" r="3.1" fill="#108a1c"/>
<polyline points="562.50,394.50 562.50,720.50" fill="none" stroke="#1f5f2b" stroke-width="1" stroke-linecap="butt" stroke-linejoin="miter"/>
<circle cx="562.70" cy="394.30" r="3.1" fill="#108a1c"/>
<polyline points="574.50,405.50 574.50,720.50" fill="none" stroke="#1f5f2b" stroke-width="1" stroke-linecap="butt" stroke-linejoin="miter"/>
<circle cx="574.70" cy="405.30" r="3.1" fill="#108a1c"/>
<polyline points="596.50,383.50 596.50,720.50" fill="none" stroke="#1f5f2b" stroke-width="1" stroke-linecap="butt" stroke-linejoin="miter"/>
<circle cx="596.70" cy="383.30" r="3.1" fill="#108a1c"/>
<polyline points="551.50,720.50 551.50,698.50 506.50,698.50 506.50,731.50" fill="none" stroke="#1f5f2b" stroke-width="1" stroke-linecap="butt" stroke-linejoin="miter"/>
<line x1="506.50" y1="731.50" x2="506.50" y2="743.70" stroke="#641418" stroke-width="1" stroke-linecap="butt"/>
<line x1="498.00" y1="743.70" x2="515.00" y2="743.70" stroke="#800000" stroke-width="2.4" stroke-linecap="butt"/>
<text transform="translate(495.00,754.00) scale(0.89,1)" font-family="Liberation Sans" font-size="11.4" fill="#767676" text-anchor="start" letter-spacing="-0.4">GND</text>
<polyline points="607.50,720.50 641.50,720.50 641.50,686.50" fill="none" stroke="#1f5f2b" stroke-width="1" stroke-linecap="butt" stroke-linejoin="miter"/>
<line x1="641.50" y1="675.50" x2="641.50" y2="686.50" stroke="#641418" stroke-width="1" stroke-linecap="butt"/>
<polyline points="635.90,684.00 641.50,675.80 647.10,684.00" fill="none" stroke="#800000" stroke-width="2.3" stroke-linecap="round" stroke-linejoin="round"/>
<line x1="638.90" y1="675.50" x2="644.10" y2="675.50" stroke="#641418" stroke-width="1" stroke-linecap="butt"/>
<line x1="641.50" y1="672.90" x2="641.50" y2="678.10" stroke="#641418" stroke-width="1" stroke-linecap="butt"/>
<text transform="translate(628.95,697.80) rotate(-90) scale(0.89,1)" font-family="Liberation Sans" font-size="11.4" fill="#767676" text-anchor="start" letter-spacing="-0.4">+5V</text>
<line x1="551.50" y1="720.50" x2="551.50" y2="722.85" stroke="#641418" stroke-width="1" stroke-linecap="butt"/>
<circle cx="551.50" cy="727.25" r="4.40" fill="#ffffff" stroke="#800000" stroke-width="1.1"/>
<text transform="translate(548.90,721.80) rotate(-90) scale(1.17,1)" font-family="Liberation Sans" font-size="9.7" fill="#6a6a6a" text-anchor="start" letter-spacing="-0.15">6</text>
<line x1="562.50" y1="720.50" x2="562.50" y2="722.85" stroke="#641418" stroke-width="1" stroke-linecap="butt"/>
<circle cx="562.50" cy="727.25" r="4.40" fill="#ffffff" stroke="#800000" stroke-width="1.1"/>
<text transform="translate(559.90,721.80) rotate(-90) scale(1.17,1)" font-family="Liberation Sans" font-size="9.7" fill="#6a6a6a" text-anchor="start" letter-spacing="-0.15">5</text>
<line x1="574.50" y1="720.50" x2="574.50" y2="722.85" stroke="#641418" stroke-width="1" stroke-linecap="butt"/>
<circle cx="574.50" cy="727.25" r="4.40" fill="#ffffff" stroke="#800000" stroke-width="1.1"/>
<text transform="translate(571.90,721.80) rotate(-90) scale(1.17,1)" font-family="Liberation Sans" font-size="9.7" fill="#6a6a6a" text-anchor="start" letter-spacing="-0.15">4</text>
<line x1="585.50" y1="720.50" x2="585.50" y2="722.85" stroke="#641418" stroke-width="1" stroke-linecap="butt"/>
<circle cx="585.50" cy="727.25" r="4.40" fill="#ffffff" stroke="#800000" stroke-width="1.1"/>
<text transform="translate(582.90,721.80) rotate(-90) scale(1.17,1)" font-family="Liberation Sans" font-size="9.7" fill="#6a6a6a" text-anchor="start" letter-spacing="-0.15">3</text>
<line x1="596.50" y1="720.50" x2="596.50" y2="722.85" stroke="#641418" stroke-width="1" stroke-linecap="butt"/>
<circle cx="596.50" cy="727.25" r="4.40" fill="#ffffff" stroke="#800000" stroke-width="1.1"/>
<text transform="translate(593.90,721.80) rotate(-90) scale(1.17,1)" font-family="Liberation Sans" font-size="9.7" fill="#6a6a6a" text-anchor="start" letter-spacing="-0.15">2</text>
<line x1="607.50" y1="720.50" x2="607.50" y2="722.85" stroke="#641418" stroke-width="1" stroke-linecap="butt"/>
<circle cx="607.50" cy="727.25" r="4.40" fill="#ffffff" stroke="#800000" stroke-width="1.1"/>
<text transform="translate(604.90,721.80) rotate(-90) scale(1.17,1)" font-family="Liberation Sans" font-size="9.7" fill="#6a6a6a" text-anchor="start" letter-spacing="-0.15">1</text>
<rect x="540.00" y="704.00" width="79.00" height="34.00" fill="none" stroke="#800000" stroke-width="2.3"/>
<line x1="571.70" y1="731.50" x2="577.30" y2="731.50" stroke="#641418" stroke-width="1" stroke-linecap="butt"/>
<line x1="574.50" y1="728.95" x2="574.50" y2="734.55" stroke="#641418" stroke-width="1" stroke-linecap="butt"/>
<text transform="translate(629.30,720.20) rotate(-90) scale(0.89,1)" font-family="Liberation Sans" font-size="11.4" fill="#767676" text-anchor="start" letter-spacing="-0.4">JP6</text>
<circle cx="736.05" cy="90.50" r="4.40" fill="#ffffff" stroke="#800000" stroke-width="1.1"/>
<line x1="740.45" y1="90.50" x2="742.50" y2="90.50" stroke="#641418" stroke-width="1" stroke-linecap="butt"/>
<text transform="translate(742.15,88.20) scale(1.17,1)" font-family="Liberation Sans" font-size="9.7" fill="#6a6a6a" text-anchor="start" letter-spacing="-0.15">2</text>
<circle cx="736.05" cy="101.50" r="4.40" fill="#ffffff" stroke="#800000" stroke-width="1.1"/>
<line x1="740.45" y1="101.50" x2="742.50" y2="101.50" stroke="#641418" stroke-width="1" stroke-linecap="butt"/>
<text transform="translate(742.15,99.20) scale(1.17,1)" font-family="Liberation Sans" font-size="9.7" fill="#6a6a6a" text-anchor="start" letter-spacing="-0.15">1</text>
<polyline points="742.50,90.50 742.50,79.50 765.50,79.50" fill="none" stroke="#1f5f2b" stroke-width="1" stroke-linecap="butt" stroke-linejoin="miter"/>
<polyline points="742.50,101.50 742.50,124.50 967.50,124.50" fill="none" stroke="#1f5f2b" stroke-width="1" stroke-linecap="butt" stroke-linejoin="miter"/>
<polyline points="832.50,124.50 967.50,124.50" fill="none" stroke="#1f5f2b" stroke-width="1" stroke-linecap="butt" stroke-linejoin="miter"/>
<rect x="726.50" y="79.50" width="33.00" height="34.00" fill="none" stroke="#800000" stroke-width="2.3"/>
<line x1="728.75" y1="90.50" x2="734.35" y2="90.50" stroke="#641418" stroke-width="1" stroke-linecap="butt"/>
<line x1="731.50" y1="87.70" x2="731.50" y2="93.30" stroke="#641418" stroke-width="1" stroke-linecap="butt"/>
<text transform="translate(742.20,122.60) scale(0.89,1)" font-family="Liberation Sans" font-size="11.4" fill="#767676" text-anchor="start" letter-spacing="-0.4">JP7</text>
<line x1="765.50" y1="79.50" x2="787.50" y2="79.50" stroke="#641418" stroke-width="1" stroke-linecap="butt"/>
<polyline points="771.75,73.90 771.75,85.10 782.95,79.50 771.75,73.90" fill="none" stroke="#800000" stroke-width="2.0" stroke-linecap="round" stroke-linejoin="round"/>
<line x1="783.25" y1="73.10" x2="783.25" y2="85.90" stroke="#800000" stroke-width="2.0" stroke-linecap="butt"/>
<line x1="774.95" y1="79.50" x2="779.75" y2="79.50" stroke="#641418" stroke-width="1" stroke-linecap="butt"/>
<line x1="777.50" y1="77.10" x2="777.50" y2="81.90" stroke="#641418" stroke-width="1" stroke-linecap="butt"/>
<text transform="translate(786.90,76.80) scale(0.89,1)" font-family="Liberation Sans" font-size="11.4" fill="#767676" text-anchor="start" letter-spacing="-0.4">D1</text>
<text transform="translate(786.90,88.80) scale(0.89,1)" font-family="Liberation Sans" font-size="11.4" fill="#767676" text-anchor="start" letter-spacing="-0.4">1N4004</text>
<polyline points="787.50,79.50 855.50,79.50" fill="none" stroke="#1f5f2b" stroke-width="1" stroke-linecap="butt" stroke-linejoin="miter"/>
<circle cx="832.70" cy="79.30" r="3.1" fill="#108a1c"/>
<line x1="832.50" y1="113.00" x2="832.50" y2="99.45" stroke="#641418" stroke-width="1" stroke-linecap="butt"/>
<line x1="832.50" y1="95.45" x2="832.50" y2="79.25" stroke="#641418" stroke-width="1" stroke-linecap="butt"/>
<rect x="823.70" y="96.75" width="18.60" height="2.70" fill="#800000"/>
<rect x="823.70" y="92.65" width="18.60" height="2.80" fill="#800000"/>
<line x1="829.70" y1="101.50" x2="835.30" y2="101.50" stroke="#641418" stroke-width="1" stroke-linecap="butt"/>
<line x1="832.50" y1="98.95" x2="832.50" y2="104.55" stroke="#641418" stroke-width="1" stroke-linecap="butt"/>
<text transform="translate(812.10,111.15) scale(0.89,1)" font-family="Liberation Sans" font-size="11.4" fill="#767676" text-anchor="start" letter-spacing="-0.4">C6</text>
<text transform="translate(794.50,89.15) scale(0.89,1)" font-family="Liberation Sans" font-size="11.4" fill="#767676" text-anchor="start" letter-spacing="-0.4">100nF</text>
<polyline points="832.50,113.50 832.50,124.50" fill="none" stroke="#1f5f2b" stroke-width="1" stroke-linecap="butt" stroke-linejoin="miter"/>
<circle cx="832.70" cy="124.30" r="3.1" fill="#108a1c"/>
<rect x="866.50" y="68.50" width="68.00" height="33.00" fill="none" stroke="#800000" stroke-width="2.4"/>
<line x1="855.50" y1="79.50" x2="866.00" y2="79.50" stroke="#641418" stroke-width="1" stroke-linecap="butt"/>
<line x1="935.00" y1="79.50" x2="945.50" y2="79.50" stroke="#641418" stroke-width="1" stroke-linecap="butt"/>
<line x1="900.50" y1="102.50" x2="900.50" y2="113.50" stroke="#641418" stroke-width="1" stroke-linecap="butt"/>
<line x1="897.70" y1="79.50" x2="903.30" y2="79.50" stroke="#641418" stroke-width="1" stroke-linecap="butt"/>
<line x1="900.50" y1="76.70" x2="900.50" y2="82.30" stroke="#641418" stroke-width="1" stroke-linecap="butt"/>
<text transform="translate(877.00,82.40) scale(0.9,1)" font-family="Liberation Sans" font-size="10.0" fill="#6a6a6a" text-anchor="start" letter-spacing="0.98">VI</text>
<text transform="translate(907.60,82.40) scale(0.9,1)" font-family="Liberation Sans" font-size="10.0" fill="#6a6a6a" text-anchor="start" letter-spacing="0.98">VO</text>
<text transform="translate(891.30,98.20) scale(1.1,1)" font-family="Liberation Sans" font-size="8.8" fill="#6a6a6a" text-anchor="start">GND</text>
<text transform="translate(864.60,77.00) scale(1.17,1)" font-family="Liberation Sans" font-size="9.7" fill="#6a6a6a" text-anchor="end" letter-spacing="-0.15">1</text>
<text transform="translate(935.60,77.00) scale(1.17,1)" font-family="Liberation Sans" font-size="9.7" fill="#6a6a6a" text-anchor="start" letter-spacing="-0.15">2</text>
<text transform="translate(897.80,109.80) rotate(-90) scale(1.17,1)" font-family="Liberation Sans" font-size="9.7" fill="#6a6a6a" text-anchor="start" letter-spacing="-0.15">3</text>
<text transform="translate(865.60,52.60) scale(0.89,1)" font-family="Liberation Sans" font-size="11.4" fill="#767676" text-anchor="start" letter-spacing="-0.4">IC2</text>
<text transform="translate(865.60,64.70) scale(0.89,1)" font-family="Liberation Sans" font-size="11.4" fill="#767676" text-anchor="start" letter-spacing="-0.4">7805DT</text>
<polyline points="900.50,113.50 900.50,146.50" fill="none" stroke="#1f5f2b" stroke-width="1" stroke-linecap="butt" stroke-linejoin="miter"/>
<circle cx="900.70" cy="124.30" r="3.1" fill="#108a1c"/>
<line x1="900.50" y1="146.50" x2="900.50" y2="158.70" stroke="#641418" stroke-width="1" stroke-linecap="butt"/>
<line x1="892.00" y1="158.70" x2="909.00" y2="158.70" stroke="#800000" stroke-width="2.4" stroke-linecap="butt"/>
<text transform="translate(889.00,169.00) scale(0.89,1)" font-family="Liberation Sans" font-size="11.4" fill="#767676" text-anchor="start" letter-spacing="-0.4">GND</text>
<polyline points="945.50,79.50 1012.50,79.50 1012.50,56.50" fill="none" stroke="#1f5f2b" stroke-width="1" stroke-linecap="butt" stroke-linejoin="miter"/>
<circle cx="967.70" cy="79.30" r="3.1" fill="#108a1c"/>
<line x1="967.50" y1="113.00" x2="967.50" y2="99.45" stroke="#641418" stroke-width="1" stroke-linecap="butt"/>
<line x1="967.50" y1="95.45" x2="967.50" y2="79.25" stroke="#641418" stroke-width="1" stroke-linecap="butt"/>
<rect x="958.70" y="96.75" width="18.60" height="2.70" fill="#800000"/>
<rect x="958.70" y="92.65" width="18.60" height="2.80" fill="#800000"/>
<line x1="964.70" y1="101.50" x2="970.30" y2="101.50" stroke="#641418" stroke-width="1" stroke-linecap="butt"/>
<line x1="967.50" y1="98.95" x2="967.50" y2="104.55" stroke="#641418" stroke-width="1" stroke-linecap="butt"/>
<text transform="translate(947.10,111.15) scale(0.89,1)" font-family="Liberation Sans" font-size="11.4" fill="#767676" text-anchor="start" letter-spacing="-0.4">C7</text>
<text transform="translate(929.50,89.15) scale(0.89,1)" font-family="Liberation Sans" font-size="11.4" fill="#767676" text-anchor="start" letter-spacing="-0.4">100nF</text>
<polyline points="967.50,113.50 967.50,124.50" fill="none" stroke="#1f5f2b" stroke-width="1" stroke-linecap="butt" stroke-linejoin="miter"/>
<line x1="1012.50" y1="45.50" x2="1012.50" y2="56.50" stroke="#641418" stroke-width="1" stroke-linecap="butt"/>
<polyline points="1006.90,54.00 1012.50,45.80 1018.10,54.00" fill="none" stroke="#800000" stroke-width="2.3" stroke-linecap="round" stroke-linejoin="round"/>
<line x1="1009.90" y1="45.50" x2="1015.10" y2="45.50" stroke="#641418" stroke-width="1" stroke-linecap="butt"/>
<line x1="1012.50" y1="42.90" x2="1012.50" y2="48.10" stroke="#641418" stroke-width="1" stroke-linecap="butt"/>
<text transform="translate(999.95,67.80) rotate(-90) scale(0.89,1)" font-family="Liberation Sans" font-size="11.4" fill="#767676" text-anchor="start" letter-spacing="-0.4">+5V</text>
<rect x="866.50" y="68.50" width="68.00" height="33.00" fill="none" stroke="#800000" stroke-width="2.4"/>
<line x1="787.50" y1="281.50" x2="790.15" y2="281.50" stroke="#641418" stroke-width="1" stroke-linecap="butt"/>
<text transform="translate(787.25,279.20) scale(1.17,1)" font-family="Liberation Sans" font-size="9.7" fill="#6a6a6a" text-anchor="end" letter-spacing="-0.15">1</text>
<circle cx="794.55" cy="281.50" r="4.40" fill="#ffffff" stroke="#800000" stroke-width="1.1"/>
<line x1="787.50" y1="293.50" x2="790.15" y2="293.50" stroke="#641418" stroke-width="1" stroke-linecap="butt"/>
<text transform="translate(787.25,291.20) scale(1.17,1)" font-family="Liberation Sans" font-size="9.7" fill="#6a6a6a" text-anchor="end" letter-spacing="-0.15">2</text>
<circle cx="794.55" cy="293.50" r="4.40" fill="#ffffff" stroke="#800000" stroke-width="1.1"/>
<line x1="787.50" y1="304.50" x2="790.15" y2="304.50" stroke="#641418" stroke-width="1" stroke-linecap="butt"/>
<text transform="translate(787.25,302.20) scale(1.17,1)" font-family="Liberation Sans" font-size="9.7" fill="#6a6a6a" text-anchor="end" letter-spacing="-0.15">3</text>
<circle cx="794.55" cy="304.50" r="4.40" fill="#ffffff" stroke="#800000" stroke-width="1.1"/>
<line x1="787.50" y1="315.50" x2="790.15" y2="315.50" stroke="#641418" stroke-width="1" stroke-linecap="butt"/>
<text transform="translate(787.25,313.20) scale(1.17,1)" font-family="Liberation Sans" font-size="9.7" fill="#6a6a6a" text-anchor="end" letter-spacing="-0.15">4</text>
<circle cx="794.55" cy="315.50" r="4.40" fill="#ffffff" stroke="#800000" stroke-width="1.1"/>
<line x1="787.50" y1="326.50" x2="790.15" y2="326.50" stroke="#641418" stroke-width="1" stroke-linecap="butt"/>
<text transform="translate(787.25,324.20) scale(1.17,1)" font-family="Liberation Sans" font-size="9.7" fill="#6a6a6a" text-anchor="end" letter-spacing="-0.15">5</text>
<circle cx="794.55" cy="326.50" r="4.40" fill="#ffffff" stroke="#800000" stroke-width="1.1"/>
<line x1="787.50" y1="338.50" x2="790.15" y2="338.50" stroke="#641418" stroke-width="1" stroke-linecap="butt"/>
<text transform="translate(787.25,336.20) scale(1.17,1)" font-family="Liberation Sans" font-size="9.7" fill="#6a6a6a" text-anchor="end" letter-spacing="-0.15">6</text>
<circle cx="794.55" cy="338.50" r="4.40" fill="#ffffff" stroke="#800000" stroke-width="1.1"/>
<line x1="787.50" y1="349.50" x2="790.15" y2="349.50" stroke="#641418" stroke-width="1" stroke-linecap="butt"/>
<text transform="translate(787.25,347.20) scale(1.17,1)" font-family="Liberation Sans" font-size="9.7" fill="#6a6a6a" text-anchor="end" letter-spacing="-0.15">7</text>
<circle cx="794.55" cy="349.50" r="4.40" fill="#ffffff" stroke="#800000" stroke-width="1.1"/>
<line x1="787.50" y1="360.50" x2="790.15" y2="360.50" stroke="#641418" stroke-width="1" stroke-linecap="butt"/>
<text transform="translate(787.25,358.20) scale(1.17,1)" font-family="Liberation Sans" font-size="9.7" fill="#6a6a6a" text-anchor="end" letter-spacing="-0.15">8</text>
<circle cx="794.55" cy="360.50" r="4.40" fill="#ffffff" stroke="#800000" stroke-width="1.1"/>
<rect x="771.00" y="270.00" width="34.00" height="102.00" fill="none" stroke="#800000" stroke-width="2.5"/>
<line x1="796.25" y1="326.50" x2="801.85" y2="326.50" stroke="#641418" stroke-width="1" stroke-linecap="butt"/>
<line x1="799.50" y1="323.70" x2="799.50" y2="329.30" stroke="#641418" stroke-width="1" stroke-linecap="butt"/>
<text transform="translate(770.60,266.80) scale(0.89,1)" font-family="Liberation Sans" font-size="11.4" fill="#767676" text-anchor="start" letter-spacing="-0.4">JP2</text>
<line x1="832.50" y1="383.50" x2="835.15" y2="383.50" stroke="#641418" stroke-width="1" stroke-linecap="butt"/>
<text transform="translate(832.25,381.20) scale(1.17,1)" font-family="Liberation Sans" font-size="9.7" fill="#6a6a6a" text-anchor="end" letter-spacing="-0.15">1</text>
<circle cx="839.55" cy="383.50" r="4.40" fill="#ffffff" stroke="#800000" stroke-width="1.1"/>
<line x1="832.50" y1="394.50" x2="835.15" y2="394.50" stroke="#641418" stroke-width="1" stroke-linecap="butt"/>
<text transform="translate(832.25,392.20) scale(1.17,1)" font-family="Liberation Sans" font-size="9.7" fill="#6a6a6a" text-anchor="end" letter-spacing="-0.15">2</text>
<circle cx="839.55" cy="394.50" r="4.40" fill="#ffffff" stroke="#800000" stroke-width="1.1"/>
<line x1="832.50" y1="405.50" x2="835.15" y2="405.50" stroke="#641418" stroke-width="1" stroke-linecap="butt"/>
<text transform="translate(832.25,403.20) scale(1.17,1)" font-family="Liberation Sans" font-size="9.7" fill="#6a6a6a" text-anchor="end" letter-spacing="-0.15">3</text>
<circle cx="839.55" cy="405.50" r="4.40" fill="#ffffff" stroke="#800000" stroke-width="1.1"/>
<line x1="832.50" y1="416.50" x2="835.15" y2="416.50" stroke="#641418" stroke-width="1" stroke-linecap="butt"/>
<text transform="translate(832.25,414.20) scale(1.17,1)" font-family="Liberation Sans" font-size="9.7" fill="#6a6a6a" text-anchor="end" letter-spacing="-0.15">4</text>
<circle cx="839.55" cy="416.50" r="4.40" fill="#ffffff" stroke="#800000" stroke-width="1.1"/>
<line x1="832.50" y1="428.50" x2="835.15" y2="428.50" stroke="#641418" stroke-width="1" stroke-linecap="butt"/>
<text transform="translate(832.25,426.20) scale(1.17,1)" font-family="Liberation Sans" font-size="9.7" fill="#6a6a6a" text-anchor="end" letter-spacing="-0.15">5</text>
<circle cx="839.55" cy="428.50" r="4.40" fill="#ffffff" stroke="#800000" stroke-width="1.1"/>
<line x1="832.50" y1="439.50" x2="835.15" y2="439.50" stroke="#641418" stroke-width="1" stroke-linecap="butt"/>
<text transform="translate(832.25,437.20) scale(1.17,1)" font-family="Liberation Sans" font-size="9.7" fill="#6a6a6a" text-anchor="end" letter-spacing="-0.15">6</text>
<circle cx="839.55" cy="439.50" r="4.40" fill="#ffffff" stroke="#800000" stroke-width="1.1"/>
<line x1="832.50" y1="450.50" x2="835.15" y2="450.50" stroke="#641418" stroke-width="1" stroke-linecap="butt"/>
<text transform="translate(832.25,448.20) scale(1.17,1)" font-family="Liberation Sans" font-size="9.7" fill="#6a6a6a" text-anchor="end" letter-spacing="-0.15">7</text>
<circle cx="839.55" cy="450.50" r="4.40" fill="#ffffff" stroke="#800000" stroke-width="1.1"/>
<line x1="832.50" y1="461.50" x2="835.15" y2="461.50" stroke="#641418" stroke-width="1" stroke-linecap="butt"/>
<text transform="translate(832.25,459.20) scale(1.17,1)" font-family="Liberation Sans" font-size="9.7" fill="#6a6a6a" text-anchor="end" letter-spacing="-0.15">8</text>
<circle cx="839.55" cy="461.50" r="4.40" fill="#ffffff" stroke="#800000" stroke-width="1.1"/>
<rect x="816.00" y="372.00" width="34.00" height="101.00" fill="none" stroke="#800000" stroke-width="2.5"/>
<line x1="841.25" y1="428.50" x2="846.85" y2="428.50" stroke="#641418" stroke-width="1" stroke-linecap="butt"/>
<line x1="844.50" y1="425.70" x2="844.50" y2="431.30" stroke="#641418" stroke-width="1" stroke-linecap="butt"/>
<text transform="translate(815.60,368.90) scale(0.89,1)" font-family="Liberation Sans" font-size="11.4" fill="#767676" text-anchor="start" letter-spacing="-0.4">JP3</text>
<line x1="787.50" y1="484.50" x2="790.15" y2="484.50" stroke="#641418" stroke-width="1" stroke-linecap="butt"/>
<text transform="translate(787.25,482.20) scale(1.17,1)" font-family="Liberation Sans" font-size="9.7" fill="#6a6a6a" text-anchor="end" letter-spacing="-0.15">1</text>
<circle cx="794.55" cy="484.50" r="4.40" fill="#ffffff" stroke="#800000" stroke-width="1.1"/>
<line x1="787.50" y1="495.50" x2="790.15" y2="495.50" stroke="#641418" stroke-width="1" stroke-linecap="butt"/>
<text transform="translate(787.25,493.20) scale(1.17,1)" font-family="Liberation Sans" font-size="9.7" fill="#6a6a6a" text-anchor="end" letter-spacing="-0.15">2</text>
<circle cx="794.55" cy="495.50" r="4.40" fill="#ffffff" stroke="#800000" stroke-width="1.1"/>
<line x1="787.50" y1="506.50" x2="790.15" y2="506.50" stroke="#641418" stroke-width="1" stroke-linecap="butt"/>
<text transform="translate(787.25,504.20) scale(1.17,1)" font-family="Liberation Sans" font-size="9.7" fill="#6a6a6a" text-anchor="end" letter-spacing="-0.15">3</text>
<circle cx="794.55" cy="506.50" r="4.40" fill="#ffffff" stroke="#800000" stroke-width="1.1"/>
<line x1="787.50" y1="518.50" x2="790.15" y2="518.50" stroke="#641418" stroke-width="1" stroke-linecap="butt"/>
<text transform="translate(787.25,516.20) scale(1.17,1)" font-family="Liberation Sans" font-size="9.7" fill="#6a6a6a" text-anchor="end" letter-spacing="-0.15">4</text>
<circle cx="794.55" cy="518.50" r="4.40" fill="#ffffff" stroke="#800000" stroke-width="1.1"/>
<line x1="787.50" y1="529.50" x2="790.15" y2="529.50" stroke="#641418" stroke-width="1" stroke-linecap="butt"/>
<text transform="translate(787.25,527.20) scale(1.17,1)" font-family="Liberation Sans" font-size="9.7" fill="#6a6a6a" text-anchor="end" letter-spacing="-0.15">5</text>
<circle cx="794.55" cy="529.50" r="4.40" fill="#ffffff" stroke="#800000" stroke-width="1.1"/>
<line x1="787.50" y1="540.50" x2="790.15" y2="540.50" stroke="#641418" stroke-width="1" stroke-linecap="butt"/>
<text transform="translate(787.25,538.20) scale(1.17,1)" font-family="Liberation Sans" font-size="9.7" fill="#6a6a6a" text-anchor="end" letter-spacing="-0.15">6</text>
<circle cx="794.55" cy="540.50" r="4.40" fill="#ffffff" stroke="#800000" stroke-width="1.1"/>
<line x1="787.50" y1="551.50" x2="790.15" y2="551.50" stroke="#641418" stroke-width="1" stroke-linecap="butt"/>
<text transform="translate(787.25,549.20) scale(1.17,1)" font-family="Liberation Sans" font-size="9.7" fill="#6a6a6a" text-anchor="end" letter-spacing="-0.15">7</text>
<circle cx="794.55" cy="551.50" r="4.40" fill="#ffffff" stroke="#800000" stroke-width="1.1"/>
<line x1="787.50" y1="563.50" x2="790.15" y2="563.50" stroke="#641418" stroke-width="1" stroke-linecap="butt"/>
<text transform="translate(787.25,561.20) scale(1.17,1)" font-family="Liberation Sans" font-size="9.7" fill="#6a6a6a" text-anchor="end" letter-spacing="-0.15">8</text>
<circle cx="794.55" cy="563.50" r="4.40" fill="#ffffff" stroke="#800000" stroke-width="1.1"/>
<rect x="771.00" y="473.00" width="34.00" height="101.00" fill="none" stroke="#800000" stroke-width="2.5"/>
<line x1="796.25" y1="529.50" x2="801.85" y2="529.50" stroke="#641418" stroke-width="1" stroke-linecap="butt"/>
<line x1="799.50" y1="526.70" x2="799.50" y2="532.30" stroke="#641418" stroke-width="1" stroke-linecap="butt"/>
<text transform="translate(770.60,470.00) scale(0.89,1)" font-family="Liberation Sans" font-size="11.4" fill="#767676" text-anchor="start" letter-spacing="-0.4">JP4</text>
<line x1="832.50" y1="585.50" x2="835.15" y2="585.50" stroke="#641418" stroke-width="1" stroke-linecap="butt"/>
<text transform="translate(832.25,583.20) scale(1.17,1)" font-family="Liberation Sans" font-size="9.7" fill="#6a6a6a" text-anchor="end" letter-spacing="-0.15">1</text>
<circle cx="839.55" cy="585.50" r="4.40" fill="#ffffff" stroke="#800000" stroke-width="1.1"/>
<line x1="832.50" y1="596.50" x2="835.15" y2="596.50" stroke="#641418" stroke-width="1" stroke-linecap="butt"/>
<text transform="translate(832.25,594.20) scale(1.17,1)" font-family="Liberation Sans" font-size="9.7" fill="#6a6a6a" text-anchor="end" letter-spacing="-0.15">2</text>
<circle cx="839.55" cy="596.50" r="4.40" fill="#ffffff" stroke="#800000" stroke-width="1.1"/>
<line x1="832.50" y1="608.50" x2="835.15" y2="608.50" stroke="#641418" stroke-width="1" stroke-linecap="butt"/>
<text transform="translate(832.25,606.20) scale(1.17,1)" font-family="Liberation Sans" font-size="9.7" fill="#6a6a6a" text-anchor="end" letter-spacing="-0.15">3</text>
<circle cx="839.55" cy="608.50" r="4.40" fill="#ffffff" stroke="#800000" stroke-width="1.1"/>
<line x1="832.50" y1="619.50" x2="835.15" y2="619.50" stroke="#641418" stroke-width="1" stroke-linecap="butt"/>
<text transform="translate(832.25,617.20) scale(1.17,1)" font-family="Liberation Sans" font-size="9.7" fill="#6a6a6a" text-anchor="end" letter-spacing="-0.15">4</text>
<circle cx="839.55" cy="619.50" r="4.40" fill="#ffffff" stroke="#800000" stroke-width="1.1"/>
<line x1="832.50" y1="630.50" x2="835.15" y2="630.50" stroke="#641418" stroke-width="1" stroke-linecap="butt"/>
<text transform="translate(832.25,628.20) scale(1.17,1)" font-family="Liberation Sans" font-size="9.7" fill="#6a6a6a" text-anchor="end" letter-spacing="-0.15">5</text>
<circle cx="839.55" cy="630.50" r="4.40" fill="#ffffff" stroke="#800000" stroke-width="1.1"/>
<line x1="832.50" y1="641.50" x2="835.15" y2="641.50" stroke="#641418" stroke-width="1" stroke-linecap="butt"/>
<text transform="translate(832.25,639.20) scale(1.17,1)" font-family="Liberation Sans" font-size="9.7" fill="#6a6a6a" text-anchor="end" letter-spacing="-0.15">6</text>
<circle cx="839.55" cy="641.50" r="4.40" fill="#ffffff" stroke="#800000" stroke-width="1.1"/>
<line x1="832.50" y1="653.50" x2="835.15" y2="653.50" stroke="#641418" stroke-width="1" stroke-linecap="butt"/>
<text transform="translate(832.25,651.20) scale(1.17,1)" font-family="Liberation Sans" font-size="9.7" fill="#6a6a6a" text-anchor="end" letter-spacing="-0.15">7</text>
<circle cx="839.55" cy="653.50" r="4.40" fill="#ffffff" stroke="#800000" stroke-width="1.1"/>
<line x1="832.50" y1="664.50" x2="835.15" y2="664.50" stroke="#641418" stroke-width="1" stroke-linecap="butt"/>
<text transform="translate(832.25,662.20) scale(1.17,1)" font-family="Liberation Sans" font-size="9.7" fill="#6a6a6a" text-anchor="end" letter-spacing="-0.15">8</text>
<circle cx="839.55" cy="664.50" r="4.40" fill="#ffffff" stroke="#800000" stroke-width="1.1"/>
<rect x="816.00" y="574.00" width="34.00" height="102.00" fill="none" stroke="#800000" stroke-width="2.5"/>
<line x1="841.25" y1="630.50" x2="846.85" y2="630.50" stroke="#641418" stroke-width="1" stroke-linecap="butt"/>
<line x1="844.50" y1="627.70" x2="844.50" y2="633.30" stroke="#641418" stroke-width="1" stroke-linecap="butt"/>
<text transform="translate(815.60,570.60) scale(0.89,1)" font-family="Liberation Sans" font-size="11.4" fill="#767676" text-anchor="start" letter-spacing="-0.4">JP5</text>
</svg>
</body></html>
